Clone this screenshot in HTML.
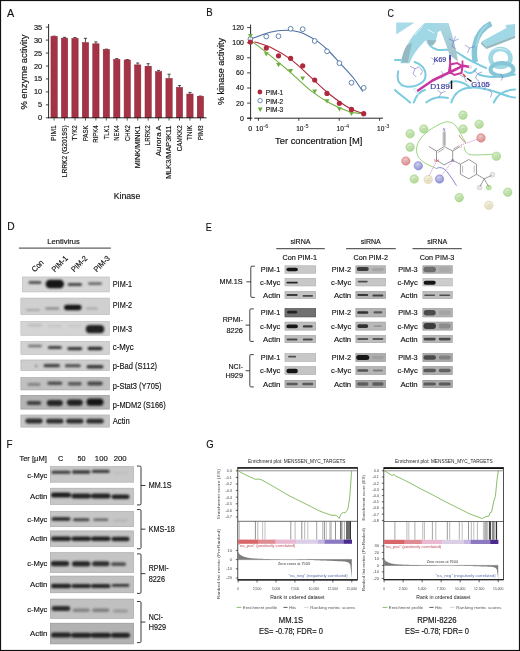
<!DOCTYPE html>
<html><head><meta charset="utf-8"><style>
html,body{margin:0;padding:0;background:#fff;}
svg{display:block;filter:blur(0.3px);}
text{font-family:"Liberation Sans",sans-serif;}
</style></head><body>
<svg width="520" height="651" viewBox="0 0 520 651">
<defs>
<filter id="b6" x="-50%" y="-200%" width="200%" height="500%"><feGaussianBlur stdDeviation="0.6"/></filter>
<filter id="b8" x="-50%" y="-200%" width="200%" height="500%"><feGaussianBlur stdDeviation="0.8"/></filter>
</defs>
<rect width="520" height="651" fill="#fff"/>
<g fill="#222">
<text x="7.00" y="16.80" font-size="11.5" stroke="#111" stroke-width="0.15" textLength="7.20" lengthAdjust="spacingAndGlyphs" fill="#111" >A</text>
<line x1="48.60" y1="24.00" x2="48.60" y2="118.20" stroke="#111" stroke-width="0.9" />
<line x1="45.90" y1="117.80" x2="48.60" y2="117.80" stroke="#111" stroke-width="0.8" />
<text x="42.20" y="120.30" font-size="7.0" stroke="#111" stroke-width="0.15" text-anchor="end" textLength="4.10" lengthAdjust="spacingAndGlyphs" fill="#111" >0</text>
<line x1="45.90" y1="104.85" x2="48.60" y2="104.85" stroke="#111" stroke-width="0.8" />
<text x="42.20" y="107.35" font-size="7.0" stroke="#111" stroke-width="0.15" text-anchor="end" textLength="4.10" lengthAdjust="spacingAndGlyphs" fill="#111" >5</text>
<line x1="45.90" y1="91.90" x2="48.60" y2="91.90" stroke="#111" stroke-width="0.8" />
<text x="42.20" y="94.40" font-size="7.0" stroke="#111" stroke-width="0.15" text-anchor="end" textLength="8.20" lengthAdjust="spacingAndGlyphs" fill="#111" >10</text>
<line x1="45.90" y1="78.95" x2="48.60" y2="78.95" stroke="#111" stroke-width="0.8" />
<text x="42.20" y="81.45" font-size="7.0" stroke="#111" stroke-width="0.15" text-anchor="end" textLength="8.20" lengthAdjust="spacingAndGlyphs" fill="#111" >15</text>
<line x1="45.90" y1="66.00" x2="48.60" y2="66.00" stroke="#111" stroke-width="0.8" />
<text x="42.20" y="68.50" font-size="7.0" stroke="#111" stroke-width="0.15" text-anchor="end" textLength="8.20" lengthAdjust="spacingAndGlyphs" fill="#111" >20</text>
<line x1="45.90" y1="53.05" x2="48.60" y2="53.05" stroke="#111" stroke-width="0.8" />
<text x="42.20" y="55.55" font-size="7.0" stroke="#111" stroke-width="0.15" text-anchor="end" textLength="8.20" lengthAdjust="spacingAndGlyphs" fill="#111" >25</text>
<line x1="45.90" y1="40.10" x2="48.60" y2="40.10" stroke="#111" stroke-width="0.8" />
<text x="42.20" y="42.60" font-size="7.0" stroke="#111" stroke-width="0.15" text-anchor="end" textLength="8.20" lengthAdjust="spacingAndGlyphs" fill="#111" >30</text>
<line x1="45.90" y1="27.15" x2="48.60" y2="27.15" stroke="#111" stroke-width="0.8" />
<text x="42.20" y="29.65" font-size="7.0" stroke="#111" stroke-width="0.15" text-anchor="end" textLength="8.20" lengthAdjust="spacingAndGlyphs" fill="#111" >35</text>
<text x="26.90" y="72.10" font-size="8.7" stroke="#111" stroke-width="0.15" text-anchor="middle" textLength="75.00" lengthAdjust="spacingAndGlyphs" fill="#111" transform="rotate(-90 26.90 72.10)" >% enzyme activity</text>
<line x1="52.50" y1="36.10" x2="55.70" y2="36.10" stroke="#333" stroke-width="0.8" />
<rect x="50.95" y="36.40" width="6.30" height="81.40" fill="#a33345" stroke="#8e2034" stroke-width="0.5"/>
<line x1="54.10" y1="117.80" x2="54.10" y2="120.60" stroke="#222" stroke-width="0.7" />
<text x="56.40" y="125.30" font-size="6.9" stroke="#111" stroke-width="0.15" text-anchor="end" textLength="15.60" lengthAdjust="spacingAndGlyphs" fill="#111" transform="rotate(-90 56.40 125.30)" >PIM1</text>
<line x1="64.55" y1="37.30" x2="64.55" y2="38.10" stroke="#222" stroke-width="0.8" />
<line x1="62.95" y1="37.30" x2="66.15" y2="37.30" stroke="#222" stroke-width="0.8" />
<rect x="61.40" y="38.10" width="6.30" height="79.70" fill="#a33345" stroke="#8e2034" stroke-width="0.5"/>
<line x1="64.55" y1="117.80" x2="64.55" y2="120.60" stroke="#222" stroke-width="0.7" />
<text x="66.85" y="125.30" font-size="6.9" stroke="#111" stroke-width="0.15" text-anchor="end" textLength="52.00" lengthAdjust="spacingAndGlyphs" fill="#111" transform="rotate(-90 66.85 125.30)" >LRRK2 (G2019S)</text>
<line x1="75.00" y1="37.50" x2="75.00" y2="38.40" stroke="#222" stroke-width="0.8" />
<line x1="73.40" y1="37.50" x2="76.60" y2="37.50" stroke="#222" stroke-width="0.8" />
<rect x="71.85" y="38.40" width="6.30" height="79.40" fill="#a33345" stroke="#8e2034" stroke-width="0.5"/>
<line x1="75.00" y1="117.80" x2="75.00" y2="120.60" stroke="#222" stroke-width="0.7" />
<text x="77.30" y="125.30" font-size="6.9" stroke="#111" stroke-width="0.15" text-anchor="end" textLength="15.20" lengthAdjust="spacingAndGlyphs" fill="#111" transform="rotate(-90 77.30 125.30)" >TYK2</text>
<line x1="85.45" y1="38.30" x2="85.45" y2="42.60" stroke="#222" stroke-width="0.8" />
<line x1="83.85" y1="38.30" x2="87.05" y2="38.30" stroke="#222" stroke-width="0.8" />
<rect x="82.30" y="42.60" width="6.30" height="75.20" fill="#a33345" stroke="#8e2034" stroke-width="0.5"/>
<line x1="85.45" y1="117.80" x2="85.45" y2="120.60" stroke="#222" stroke-width="0.7" />
<text x="87.75" y="125.30" font-size="6.9" stroke="#111" stroke-width="0.15" text-anchor="end" textLength="16.00" lengthAdjust="spacingAndGlyphs" fill="#111" transform="rotate(-90 87.75 125.30)" >PASK</text>
<line x1="95.90" y1="41.90" x2="95.90" y2="43.80" stroke="#222" stroke-width="0.8" />
<line x1="94.30" y1="41.90" x2="97.50" y2="41.90" stroke="#222" stroke-width="0.8" />
<rect x="92.75" y="43.80" width="6.30" height="74.00" fill="#a33345" stroke="#8e2034" stroke-width="0.5"/>
<line x1="95.90" y1="117.80" x2="95.90" y2="120.60" stroke="#222" stroke-width="0.7" />
<text x="98.20" y="125.30" font-size="6.9" stroke="#111" stroke-width="0.15" text-anchor="end" textLength="17.50" lengthAdjust="spacingAndGlyphs" fill="#111" transform="rotate(-90 98.20 125.30)" >RIPK4</text>
<line x1="104.75" y1="49.10" x2="107.95" y2="49.10" stroke="#333" stroke-width="0.8" />
<rect x="103.20" y="49.40" width="6.30" height="68.40" fill="#a33345" stroke="#8e2034" stroke-width="0.5"/>
<line x1="106.35" y1="117.80" x2="106.35" y2="120.60" stroke="#222" stroke-width="0.7" />
<text x="108.65" y="125.30" font-size="6.9" stroke="#111" stroke-width="0.15" text-anchor="end" textLength="14.00" lengthAdjust="spacingAndGlyphs" fill="#111" transform="rotate(-90 108.65 125.30)" >TLK1</text>
<line x1="116.80" y1="58.60" x2="116.80" y2="59.40" stroke="#222" stroke-width="0.8" />
<line x1="115.20" y1="58.60" x2="118.40" y2="58.60" stroke="#222" stroke-width="0.8" />
<rect x="113.65" y="59.40" width="6.30" height="58.40" fill="#a33345" stroke="#8e2034" stroke-width="0.5"/>
<line x1="116.80" y1="117.80" x2="116.80" y2="120.60" stroke="#222" stroke-width="0.7" />
<text x="119.10" y="125.30" font-size="6.9" stroke="#111" stroke-width="0.15" text-anchor="end" textLength="15.50" lengthAdjust="spacingAndGlyphs" fill="#111" transform="rotate(-90 119.10 125.30)" >NEK4</text>
<line x1="127.25" y1="59.60" x2="127.25" y2="60.00" stroke="#222" stroke-width="0.8" />
<line x1="125.65" y1="59.60" x2="128.85" y2="59.60" stroke="#222" stroke-width="0.8" />
<rect x="124.10" y="60.00" width="6.30" height="57.80" fill="#a33345" stroke="#8e2034" stroke-width="0.5"/>
<line x1="127.25" y1="117.80" x2="127.25" y2="120.60" stroke="#222" stroke-width="0.7" />
<text x="129.55" y="125.30" font-size="6.9" stroke="#111" stroke-width="0.15" text-anchor="end" textLength="15.80" lengthAdjust="spacingAndGlyphs" fill="#111" transform="rotate(-90 129.55 125.30)" >CHK2</text>
<line x1="137.70" y1="63.00" x2="137.70" y2="64.90" stroke="#222" stroke-width="0.8" />
<line x1="136.10" y1="63.00" x2="139.30" y2="63.00" stroke="#222" stroke-width="0.8" />
<rect x="134.55" y="64.90" width="6.30" height="52.90" fill="#a33345" stroke="#8e2034" stroke-width="0.5"/>
<line x1="137.70" y1="117.80" x2="137.70" y2="120.60" stroke="#222" stroke-width="0.7" />
<text x="140.00" y="125.30" font-size="6.9" stroke="#111" stroke-width="0.15" text-anchor="end" textLength="43.00" lengthAdjust="spacingAndGlyphs" fill="#111" transform="rotate(-90 140.00 125.30)" >MINK/MINK1</text>
<line x1="148.15" y1="63.70" x2="148.15" y2="66.20" stroke="#222" stroke-width="0.8" />
<line x1="146.55" y1="63.70" x2="149.75" y2="63.70" stroke="#222" stroke-width="0.8" />
<rect x="145.00" y="66.20" width="6.30" height="51.60" fill="#a33345" stroke="#8e2034" stroke-width="0.5"/>
<line x1="148.15" y1="117.80" x2="148.15" y2="120.60" stroke="#222" stroke-width="0.7" />
<text x="150.45" y="125.30" font-size="6.9" stroke="#111" stroke-width="0.15" text-anchor="end" textLength="20.00" lengthAdjust="spacingAndGlyphs" fill="#111" transform="rotate(-90 150.45 125.30)" >LRRK2</text>
<line x1="158.60" y1="70.40" x2="158.60" y2="71.70" stroke="#222" stroke-width="0.8" />
<line x1="157.00" y1="70.40" x2="160.20" y2="70.40" stroke="#222" stroke-width="0.8" />
<rect x="155.45" y="71.70" width="6.30" height="46.10" fill="#a33345" stroke="#8e2034" stroke-width="0.5"/>
<line x1="158.60" y1="117.80" x2="158.60" y2="120.60" stroke="#222" stroke-width="0.7" />
<text x="160.90" y="125.30" font-size="6.9" stroke="#111" stroke-width="0.15" text-anchor="end" textLength="31.00" lengthAdjust="spacingAndGlyphs" fill="#111" transform="rotate(-90 160.90 125.30)" >Aurora A</text>
<line x1="169.05" y1="74.20" x2="169.05" y2="78.50" stroke="#222" stroke-width="0.8" />
<line x1="167.45" y1="74.20" x2="170.65" y2="74.20" stroke="#222" stroke-width="0.8" />
<rect x="165.90" y="78.50" width="6.30" height="39.30" fill="#a33345" stroke="#8e2034" stroke-width="0.5"/>
<line x1="169.05" y1="117.80" x2="169.05" y2="120.60" stroke="#222" stroke-width="0.7" />
<text x="171.35" y="125.30" font-size="6.9" stroke="#111" stroke-width="0.15" text-anchor="end" textLength="53.50" lengthAdjust="spacingAndGlyphs" fill="#111" transform="rotate(-90 171.35 125.30)" >MLK3/MAP3K11</text>
<line x1="179.50" y1="85.60" x2="179.50" y2="87.40" stroke="#222" stroke-width="0.8" />
<line x1="177.90" y1="85.60" x2="181.10" y2="85.60" stroke="#222" stroke-width="0.8" />
<rect x="176.35" y="87.40" width="6.30" height="30.40" fill="#a33345" stroke="#8e2034" stroke-width="0.5"/>
<line x1="179.50" y1="117.80" x2="179.50" y2="120.60" stroke="#222" stroke-width="0.7" />
<text x="181.80" y="125.30" font-size="6.9" stroke="#111" stroke-width="0.15" text-anchor="end" textLength="26.00" lengthAdjust="spacingAndGlyphs" fill="#111" transform="rotate(-90 181.80 125.30)" >CAMKK2</text>
<line x1="189.95" y1="92.40" x2="189.95" y2="94.00" stroke="#222" stroke-width="0.8" />
<line x1="188.35" y1="92.40" x2="191.55" y2="92.40" stroke="#222" stroke-width="0.8" />
<rect x="186.80" y="94.00" width="6.30" height="23.80" fill="#a33345" stroke="#8e2034" stroke-width="0.5"/>
<line x1="189.95" y1="117.80" x2="189.95" y2="120.60" stroke="#222" stroke-width="0.7" />
<text x="192.25" y="125.30" font-size="6.9" stroke="#111" stroke-width="0.15" text-anchor="end" textLength="15.00" lengthAdjust="spacingAndGlyphs" fill="#111" transform="rotate(-90 192.25 125.30)" >TNIK</text>
<line x1="198.80" y1="96.00" x2="202.00" y2="96.00" stroke="#333" stroke-width="0.8" />
<rect x="197.25" y="96.30" width="6.30" height="21.50" fill="#a33345" stroke="#8e2034" stroke-width="0.5"/>
<line x1="200.40" y1="117.80" x2="200.40" y2="120.60" stroke="#222" stroke-width="0.7" />
<text x="202.70" y="125.30" font-size="6.9" stroke="#111" stroke-width="0.15" text-anchor="end" textLength="15.00" lengthAdjust="spacingAndGlyphs" fill="#111" transform="rotate(-90 202.70 125.30)" >PIM3</text>
<line x1="48.20" y1="117.80" x2="206.50" y2="117.80" stroke="#111" stroke-width="0.9" />
<text x="127.00" y="198.60" font-size="8.3" stroke="#111" stroke-width="0.15" text-anchor="middle" textLength="26.60" lengthAdjust="spacingAndGlyphs" fill="#111" >Kinase</text>
<text x="206.20" y="16.40" font-size="11" stroke="#111" stroke-width="0.15" textLength="6.40" lengthAdjust="spacingAndGlyphs" fill="#111" >B</text>
<line x1="250.60" y1="24.60" x2="250.60" y2="118.30" stroke="#111" stroke-width="0.9" />
<line x1="247.10" y1="118.20" x2="250.60" y2="118.20" stroke="#111" stroke-width="0.8" />
<text x="243.80" y="120.60" font-size="7.7" stroke="#111" stroke-width="0.15" text-anchor="end" textLength="3.90" lengthAdjust="spacingAndGlyphs" fill="#111" >0</text>
<line x1="247.10" y1="103.10" x2="250.60" y2="103.10" stroke="#111" stroke-width="0.8" />
<text x="243.80" y="105.50" font-size="7.7" stroke="#111" stroke-width="0.15" text-anchor="end" textLength="7.70" lengthAdjust="spacingAndGlyphs" fill="#111" >20</text>
<line x1="247.10" y1="88.00" x2="250.60" y2="88.00" stroke="#111" stroke-width="0.8" />
<text x="243.80" y="90.40" font-size="7.7" stroke="#111" stroke-width="0.15" text-anchor="end" textLength="7.70" lengthAdjust="spacingAndGlyphs" fill="#111" >40</text>
<line x1="247.10" y1="72.90" x2="250.60" y2="72.90" stroke="#111" stroke-width="0.8" />
<text x="243.80" y="75.30" font-size="7.7" stroke="#111" stroke-width="0.15" text-anchor="end" textLength="7.70" lengthAdjust="spacingAndGlyphs" fill="#111" >60</text>
<line x1="247.10" y1="57.80" x2="250.60" y2="57.80" stroke="#111" stroke-width="0.8" />
<text x="243.80" y="60.20" font-size="7.7" stroke="#111" stroke-width="0.15" text-anchor="end" textLength="7.70" lengthAdjust="spacingAndGlyphs" fill="#111" >80</text>
<line x1="247.10" y1="42.70" x2="250.60" y2="42.70" stroke="#111" stroke-width="0.8" />
<text x="243.80" y="45.10" font-size="7.7" stroke="#111" stroke-width="0.15" text-anchor="end" textLength="11.50" lengthAdjust="spacingAndGlyphs" fill="#111" >100</text>
<line x1="247.10" y1="27.60" x2="250.60" y2="27.60" stroke="#111" stroke-width="0.8" />
<text x="243.80" y="30.00" font-size="7.7" stroke="#111" stroke-width="0.15" text-anchor="end" textLength="11.50" lengthAdjust="spacingAndGlyphs" fill="#111" >120</text>
<line x1="247.20" y1="118.20" x2="252.30" y2="118.20" stroke="#111" stroke-width="0.9" />
<line x1="254.20" y1="118.20" x2="383.00" y2="118.20" stroke="#111" stroke-width="0.9" />
<line x1="250.40" y1="118.20" x2="250.40" y2="120.80" stroke="#111" stroke-width="0.8" />
<line x1="258.40" y1="118.20" x2="258.40" y2="120.80" stroke="#111" stroke-width="0.8" />
<line x1="298.80" y1="118.20" x2="298.80" y2="120.80" stroke="#111" stroke-width="0.8" />
<line x1="339.20" y1="118.20" x2="339.20" y2="120.80" stroke="#111" stroke-width="0.8" />
<line x1="379.60" y1="118.20" x2="379.60" y2="120.80" stroke="#111" stroke-width="0.8" />
<text x="250.20" y="131.40" font-size="7.2" stroke="#111" stroke-width="0.15" text-anchor="middle" textLength="3.90" lengthAdjust="spacingAndGlyphs" fill="#111" >0</text>
<text x="255.80" y="131.40" font-size="7.2" stroke="#111" stroke-width="0.15" textLength="7.30" lengthAdjust="spacingAndGlyphs" fill="#111" >10</text>
<text x="263.30" y="128.20" font-size="4.6" textLength="5.00" lengthAdjust="spacingAndGlyphs" fill="#111" >-6</text>
<text x="296.20" y="131.40" font-size="7.2" stroke="#111" stroke-width="0.15" textLength="7.30" lengthAdjust="spacingAndGlyphs" fill="#111" >10</text>
<text x="303.70" y="128.20" font-size="4.6" textLength="5.00" lengthAdjust="spacingAndGlyphs" fill="#111" >-5</text>
<text x="336.60" y="131.40" font-size="7.2" stroke="#111" stroke-width="0.15" textLength="7.30" lengthAdjust="spacingAndGlyphs" fill="#111" >10</text>
<text x="344.10" y="128.20" font-size="4.6" textLength="5.00" lengthAdjust="spacingAndGlyphs" fill="#111" >-4</text>
<text x="377.00" y="131.40" font-size="7.2" stroke="#111" stroke-width="0.15" textLength="7.30" lengthAdjust="spacingAndGlyphs" fill="#111" >10</text>
<text x="384.50" y="128.20" font-size="4.6" textLength="5.00" lengthAdjust="spacingAndGlyphs" fill="#111" >-3</text>
<text x="318.70" y="143.70" font-size="9.4" stroke="#111" stroke-width="0.15" text-anchor="middle" textLength="87.30" lengthAdjust="spacingAndGlyphs" fill="#111" >Ter concentration [M]</text>
<text x="224.40" y="71.50" font-size="8.5" stroke="#111" stroke-width="0.15" text-anchor="middle" textLength="67.00" lengthAdjust="spacingAndGlyphs" fill="#111" transform="rotate(-90 224.40 71.50)" >% kinase activity</text>
<path d="M252.00,38.50 C255.00,37.45 264.43,33.58 270.00,32.20 C275.57,30.82 280.40,30.20 285.40,30.20 C290.40,30.20 294.90,30.50 300.00,32.20 C305.10,33.90 311.38,37.43 316.00,40.40 C320.62,43.37 323.83,46.35 327.70,50.00 C331.57,53.65 335.03,57.80 339.20,62.30 C343.37,66.80 348.77,72.13 352.70,77.00 C356.63,81.87 361.12,89.08 362.80,91.50" fill="none" stroke="#4a6fa0" stroke-width="1.1"/>
<path d="M254.60,41.80 C257.48,42.83 265.80,45.03 271.90,48.00 C278.00,50.97 284.78,54.78 291.20,59.60 C297.62,64.42 304.00,71.13 310.40,76.90 C316.80,82.67 323.20,89.07 329.60,94.20 C336.00,99.33 343.15,104.47 348.80,107.70 C354.45,110.93 361.05,112.62 363.50,113.60" fill="none" stroke="#b0283c" stroke-width="1.1"/>
<path d="M252.20,41.50 C255.48,44.07 265.40,51.63 271.90,56.90 C278.40,62.17 284.78,67.52 291.20,73.10 C297.62,78.68 304.00,85.42 310.40,90.40 C316.80,95.38 323.20,99.48 329.60,103.00 C336.00,106.52 343.15,109.70 348.80,111.50 C354.45,113.30 361.05,113.42 363.50,113.80" fill="none" stroke="#6fae3e" stroke-width="1.1"/>
<circle cx="250.4" cy="39.0" r="2.4" fill="#fff" stroke="#4a6fa0" stroke-width="0.85"/>
<circle cx="266.3" cy="36.5" r="2.4" fill="#fff" stroke="#4a6fa0" stroke-width="0.85"/>
<circle cx="278.5" cy="36.2" r="2.4" fill="#fff" stroke="#4a6fa0" stroke-width="0.85"/>
<circle cx="290.6" cy="28.8" r="2.4" fill="#fff" stroke="#4a6fa0" stroke-width="0.85"/>
<circle cx="302.7" cy="29.2" r="2.4" fill="#fff" stroke="#4a6fa0" stroke-width="0.85"/>
<circle cx="314.7" cy="41.0" r="2.4" fill="#fff" stroke="#4a6fa0" stroke-width="0.85"/>
<circle cx="327.0" cy="51.3" r="2.4" fill="#fff" stroke="#4a6fa0" stroke-width="0.85"/>
<circle cx="339.4" cy="63.1" r="2.4" fill="#fff" stroke="#4a6fa0" stroke-width="0.85"/>
<circle cx="351.5" cy="82.7" r="2.4" fill="#fff" stroke="#4a6fa0" stroke-width="0.85"/>
<circle cx="363.7" cy="87.9" r="2.4" fill="#fff" stroke="#4a6fa0" stroke-width="0.85"/>
<path d="M248.0,33.9 L252.8,33.9 L250.4,38.2 Z" fill="#6fae3e"/>
<path d="M263.90000000000003,52.3 L268.7,52.3 L266.3,56.6 Z" fill="#6fae3e"/>
<path d="M276.1,62.9 L280.9,62.9 L278.5,67.2 Z" fill="#6fae3e"/>
<path d="M288.20000000000005,69.10000000000001 L293.0,69.10000000000001 L290.6,73.4 Z" fill="#6fae3e"/>
<path d="M300.3,76.5 L305.09999999999997,76.5 L302.7,80.8 Z" fill="#6fae3e"/>
<path d="M312.3,89.60000000000001 L317.09999999999997,89.60000000000001 L314.7,93.9 Z" fill="#6fae3e"/>
<path d="M324.6,99.2 L329.4,99.2 L327.0,103.5 Z" fill="#6fae3e"/>
<path d="M337.0,107.30000000000001 L341.79999999999995,107.30000000000001 L339.4,111.60000000000001 Z" fill="#6fae3e"/>
<path d="M349.1,111.7 L353.9,111.7 L351.5,116.0 Z" fill="#6fae3e"/>
<path d="M361.3,112.4 L366.09999999999997,112.4 L363.7,116.7 Z" fill="#6fae3e"/>
<circle cx="250.4" cy="42.0" r="2.6" fill="#b0283c"/>
<circle cx="266.3" cy="48.1" r="2.6" fill="#b0283c"/>
<circle cx="278.5" cy="55.8" r="2.6" fill="#b0283c"/>
<circle cx="290.6" cy="58.3" r="2.6" fill="#b0283c"/>
<circle cx="302.7" cy="65.8" r="2.6" fill="#b0283c"/>
<circle cx="314.7" cy="80.0" r="2.6" fill="#b0283c"/>
<circle cx="327.0" cy="93.4" r="2.6" fill="#b0283c"/>
<circle cx="339.4" cy="103.3" r="2.6" fill="#b0283c"/>
<circle cx="351.5" cy="109.4" r="2.6" fill="#b0283c"/>
<circle cx="363.7" cy="113.7" r="2.6" fill="#b0283c"/>
<circle cx="259.9" cy="92.0" r="2.4" fill="#b0283c"/>
<circle cx="260.1" cy="100.6" r="2.2" fill="#fff" stroke="#4a6fa0" stroke-width="0.8"/>
<path d="M257.7,107.4 L262.7,107.4 L260.2,111.9 Z" fill="#6fae3e"/>
<text x="265.80" y="94.60" font-size="7.4" stroke="#111" stroke-width="0.15" textLength="17.40" lengthAdjust="spacingAndGlyphs" fill="#111" >PIM-1</text>
<text x="265.80" y="103.80" font-size="7.4" stroke="#111" stroke-width="0.15" textLength="17.40" lengthAdjust="spacingAndGlyphs" fill="#111" >PIM-2</text>
<text x="265.80" y="111.90" font-size="7.4" stroke="#111" stroke-width="0.15" textLength="17.40" lengthAdjust="spacingAndGlyphs" fill="#111" >PIM-3</text>
<text x="387.60" y="16.80" font-size="11" stroke="#111" stroke-width="0.15" textLength="6.40" lengthAdjust="spacingAndGlyphs" fill="#111" >C</text>
<svg x="397.6" y="23.2" width="115.30" height="82.60" viewBox="397.6 23.2 115.30 82.60" overflow="hidden">
<g transform="translate(390,15) scale(0.25)">
<path d="M98,188 C125,195 140,215 142,234 C143,250 138,262 130,268 C115,280 90,288 70,287 C50,285 38,278 33,262 C28,248 30,235 33,225" fill="none" stroke="#7ccbde" stroke-width="8" stroke-linecap="round"/>
<path d="M148,97 C150,115 160,130 189,139 C210,142 225,138 235,139 C255,142 265,148 272,152 C290,162 300,172 328,185 C345,192 360,205 385,212" fill="none" stroke="#7ccbde" stroke-width="8" stroke-linecap="round"/>
<path d="M20,180 C40,178 55,183 70,180" fill="none" stroke="#7ccbde" stroke-width="8" stroke-linecap="round"/>
<path d="M95,350 C105,320 120,305 140,300" fill="none" stroke="#7ccbde" stroke-width="8" stroke-linecap="round"/>
<path d="M245,350 C258,310 290,290 330,290 C370,290 400,300 430,310 C460,320 480,330 500,330" fill="none" stroke="#7ccbde" stroke-width="8" stroke-linecap="round"/>
<path d="M238,272 C260,258 300,268 322,292" fill="none" stroke="#7ccbde" stroke-width="8" stroke-linecap="round"/>
<path d="M355,238 C390,252 430,252 500,238" fill="none" stroke="#7ccbde" stroke-width="8" stroke-linecap="round"/>
<path d="M415,350 C428,320 458,300 500,298" fill="none" stroke="#7ccbde" stroke-width="8" stroke-linecap="round"/>
<path d="M145,350 C170,330 200,325 232,332" fill="none" stroke="#7ccbde" stroke-width="8" stroke-linecap="round"/>
<path d="M20,300 C40,320 60,330 80,350" fill="none" stroke="#7ccbde" stroke-width="8" stroke-linecap="round"/>
<path d="M300,225 C320,240 335,230 345,215" fill="none" stroke="#7ccbde" stroke-width="8" stroke-linecap="round"/>
<path d="M25,30 L98,30 L25,78 Z" fill="#a8dbe8"/>
<path d="M41,193 C48,160 62,130 80,100 C100,70 120,48 140,32 L190,32 C200,40 210,50 213,58 C180,70 150,95 132,112 C110,135 90,160 78,193 Z" fill="#a0d8e6"/>
<path d="M47,190 C48,165 55,140 68,120 L90,112 C82,135 76,160 72,190 Z" fill="#94b9c0"/>
<path d="M100,80 C112,66 122,55 130,45" stroke="#dff3f8" stroke-width="4" fill="none"/>
<defs><linearGradient id="bandg" x1="0" y1="0" x2="0" y2="1"><stop offset="0" stop-color="#a9d8e4"/><stop offset="1" stop-color="#a2c2c8"/></linearGradient></defs>
<path d="M190,32 L234,32 C246,70 262,118 272,186 L238,160 C226,120 210,80 190,32 Z" fill="url(#bandg)"/>
<path d="M142,42 C152,33 180,32 190,40 C194,70 188,100 172,118 C162,124 152,122 148,110 C142,90 138,65 142,42 Z" fill="#a0d8e6"/>
<path d="M150,100 C160,98 178,104 186,100 C182,110 176,118 170,122 C160,124 152,120 150,100 Z" fill="#94b9c0"/>
<path d="M150,58 L176,72" stroke="#e6f6fa" stroke-width="4"/>
<path d="M405,34 C372,50 348,82 340,120 C335,150 337,170 342,188" fill="none" stroke="#86c6d6" stroke-width="22"/>
<path d="M392,38 C366,56 350,86 346,125" fill="none" stroke="#a0d8e6" stroke-width="8"/>
<ellipse cx="442" cy="172" rx="40" ry="36" fill="none" stroke="#a0d8e6" stroke-width="18"/>
<ellipse cx="448" cy="218" rx="46" ry="26" fill="none" stroke="#86c6d6" stroke-width="16"/>
<path d="M405,140 C420,132 450,132 468,142" stroke="#d6eef4" stroke-width="4" fill="none"/>
<path d="M366,106 L466,52 L462,40 L500,36 L500,82 L384,126 Z" fill="#a0d8e6"/>
<path d="M366,106 L384,126 L500,82 L500,92 L386,136 L364,116 Z" fill="#94b9c0"/>
<path d="M235,95 L255,105 L248,125 M255,105 L275,95 M248,125 L262,135 M255,105 L262,85" fill="none" stroke="#6262c4" stroke-width="2.2"/>
<path d="M300,120 L318,132 L310,152 M318,132 L338,126" fill="none" stroke="#6262c4" stroke-width="2.2"/>
<path d="M80,205 L100,215 L92,235 M100,215 L118,207 M92,235 L105,248" fill="none" stroke="#6262c4" stroke-width="2.2"/>
<path d="M165,170 L180,185 L172,200 M180,185 L196,178" fill="none" stroke="#6262c4" stroke-width="2.2"/>
<path d="M190,300 L205,312 L195,330 M205,312 L222,305" fill="none" stroke="#6262c4" stroke-width="2.2"/>
<path d="M335,220 L350,235 L342,252 M350,235 L368,228 M342,252 L356,265" fill="none" stroke="#6262c4" stroke-width="2.2"/>
<path d="M370,270 L385,282 L376,300 M385,282 L402,276" fill="none" stroke="#6262c4" stroke-width="2.2"/>
<path d="M395,300 L408,312 L402,330" fill="none" stroke="#6262c4" stroke-width="2.2"/>
<path d="M205,225 L215,240 L205,255" fill="none" stroke="#6262c4" stroke-width="2.2"/>
<path d="M280,240 L298,250 M298,250 L305,268" fill="none" stroke="#6262c4" stroke-width="2.2"/>
<path d="M120,210 L130,225 L122,240" fill="none" stroke="#6262c4" stroke-width="2.2"/>
<path d="M440,235 L452,248 L445,262" fill="none" stroke="#6262c4" stroke-width="2.2"/>
<path d="M112,302 L170,262 L220,238 L262,218 L292,203 L322,208" fill="none" stroke="#c8379d" stroke-width="10" stroke-linejoin="round" stroke-linecap="round"/>
<path d="M240,198 L268,192 L290,205 L286,232 L258,240 L236,226 Z" fill="none" stroke="#c8379d" stroke-width="8"/>
<path d="M240,172 L242,236" stroke="#c8379d" stroke-width="8"/>
<path d="M240,160 L240,178" stroke="#3a3ab0" stroke-width="7"/>
<path d="M290,182 L290,205" stroke="#c8379d" stroke-width="7"/>
<path d="M292,236 L302,248" stroke="#d05050" stroke-width="7"/>
<path d="M246,262 L246,296" stroke="#111" stroke-width="6"/>
<path d="M308,253 L326,266" stroke="#111" stroke-width="6"/>
<path d="M100,305 L115,318 M105,292 L92,300" stroke="#cfeef5" stroke-width="6"/>
<circle cx="322" cy="206" r="7" fill="#e8e8e8"/>
</g>
</svg>
<text x="433.80" y="61.60" font-size="7.2" stroke="#35359a" stroke-width="0.15" textLength="12.40" lengthAdjust="spacingAndGlyphs" fill="#35359a" >K69</text>
<text x="430.20" y="88.60" font-size="7.4" stroke="#35359a" stroke-width="0.15" textLength="19.60" lengthAdjust="spacingAndGlyphs" fill="#35359a" >D189</text>
<text x="471.20" y="87.40" font-size="7.4" stroke="#35359a" stroke-width="0.15" textLength="18.60" lengthAdjust="spacingAndGlyphs" fill="#35359a" >G105</text>
<path d="M465.8,142.6 C462,138 460,130 455,125 C451,121 446,121 440,124 C432,128 424,133 419,141 C415,148 416,156 421.2,160.3 C425,164 431,166 436.5,168.5" fill="none" stroke="#8fcf70" stroke-width="0.9"/>
<path d="M459,135 C461,139 463,141 465.8,142.6" fill="none" stroke="#d0806a" stroke-width="0.9"/>
<path d="M436.5,168.5 C441,166 445,169 448,173 C451,177 454,181 456.5,185.7" fill="none" stroke="#6a6ac8" stroke-width="0.8"/>
<path d="M464.2,146.5 C464.5,150 465,152 468.8,154.2 C472,155.2 476,155 479.6,154.9 C486,154.6 491,154.4 495,154.2" fill="none" stroke="#8fcf70" stroke-width="0.9"/>
<defs><radialGradient id="rgg" cx="0.45" cy="0.4" r="0.6"><stop offset="0" stop-color="#e4f4d8"/><stop offset="1" stop-color="#a6d68a"/></radialGradient><radialGradient id="rgr" cx="0.45" cy="0.4" r="0.6"><stop offset="0" stop-color="#f4d6d6"/><stop offset="1" stop-color="#dc8080"/></radialGradient><radialGradient id="rgb" cx="0.45" cy="0.4" r="0.6"><stop offset="0" stop-color="#dcdcf6"/><stop offset="1" stop-color="#8686d6"/></radialGradient><radialGradient id="rgc" cx="0.45" cy="0.4" r="0.6"><stop offset="0" stop-color="#fbf9ee"/><stop offset="1" stop-color="#e2d8b0"/></radialGradient><radialGradient id="rgs" cx="0.45" cy="0.4" r="0.6"><stop offset="0" stop-color="#f4f4f4"/><stop offset="1" stop-color="#d0d0d0"/></radialGradient></defs>
<circle cx="463" cy="115.1" r="4.3" fill="url(#rgg)" stroke="#9bd07c" stroke-width="0.4"/>
<path d="M461.4,114.5 L464.6,114.5 M461.4,116.1 L464.6,116.1" stroke="#6a8a6a" stroke-width="0.45" opacity="0.6"/>
<circle cx="479.1" cy="124.2" r="4.3" fill="url(#rgg)" stroke="#9bd07c" stroke-width="0.4"/>
<path d="M477.5,123.60000000000001 L480.70000000000005,123.60000000000001 M477.5,125.2 L480.70000000000005,125.2" stroke="#6a8a6a" stroke-width="0.45" opacity="0.6"/>
<circle cx="423.8" cy="129" r="4.3" fill="url(#rgg)" stroke="#9bd07c" stroke-width="0.4"/>
<path d="M422.2,128.4 L425.40000000000003,128.4 M422.2,130.0 L425.40000000000003,130.0" stroke="#6a8a6a" stroke-width="0.45" opacity="0.6"/>
<circle cx="463" cy="129" r="4.3" fill="url(#rgg)" stroke="#9bd07c" stroke-width="0.4"/>
<path d="M461.4,128.4 L464.6,128.4 M461.4,130.0 L464.6,130.0" stroke="#6a8a6a" stroke-width="0.45" opacity="0.6"/>
<circle cx="410.1" cy="133.8" r="4.3" fill="url(#rgg)" stroke="#9bd07c" stroke-width="0.4"/>
<path d="M408.5,133.20000000000002 L411.70000000000005,133.20000000000002 M408.5,134.8 L411.70000000000005,134.8" stroke="#6a8a6a" stroke-width="0.45" opacity="0.6"/>
<circle cx="481" cy="137.9" r="4.3" fill="url(#rgr)" stroke="#d87c7c" stroke-width="0.4"/>
<path d="M479.4,137.3 L482.6,137.3 M479.4,138.9 L482.6,138.9" stroke="#6a8a6a" stroke-width="0.45" opacity="0.6"/>
<circle cx="410.1" cy="147.1" r="4.3" fill="url(#rgg)" stroke="#9bd07c" stroke-width="0.4"/>
<path d="M408.5,146.5 L411.70000000000005,146.5 M408.5,148.1 L411.70000000000005,148.1" stroke="#6a8a6a" stroke-width="0.45" opacity="0.6"/>
<circle cx="496.4" cy="156.2" r="4.3" fill="url(#rgg)" stroke="#9bd07c" stroke-width="0.4"/>
<path d="M494.79999999999995,155.6 L498.0,155.6 M494.79999999999995,157.2 L498.0,157.2" stroke="#6a8a6a" stroke-width="0.45" opacity="0.6"/>
<circle cx="405.8" cy="161" r="4.3" fill="url(#rgr)" stroke="#d87c7c" stroke-width="0.4"/>
<path d="M404.2,160.4 L407.40000000000003,160.4 M404.2,162.0 L407.40000000000003,162.0" stroke="#6a8a6a" stroke-width="0.45" opacity="0.6"/>
<circle cx="418.3" cy="165.8" r="4.3" fill="url(#rgb)" stroke="#8080d0" stroke-width="0.4"/>
<path d="M416.7,165.20000000000002 L419.90000000000003,165.20000000000002 M416.7,166.8 L419.90000000000003,166.8" stroke="#6a8a6a" stroke-width="0.45" opacity="0.6"/>
<circle cx="414.2" cy="179" r="4.3" fill="url(#rgg)" stroke="#9bd07c" stroke-width="0.4"/>
<path d="M412.59999999999997,178.4 L415.8,178.4 M412.59999999999997,180.0 L415.8,180.0" stroke="#6a8a6a" stroke-width="0.45" opacity="0.6"/>
<circle cx="428.2" cy="179.5" r="4.3" fill="url(#rgc)" stroke="#d8d0a8" stroke-width="0.4"/>
<path d="M426.59999999999997,178.9 L429.8,178.9 M426.59999999999997,180.5 L429.8,180.5" stroke="#6a8a6a" stroke-width="0.45" opacity="0.6"/>
<circle cx="439.5" cy="179" r="4.3" fill="url(#rgb)" stroke="#8080d0" stroke-width="0.4"/>
<path d="M437.9,178.4 L441.1,178.4 M437.9,180.0 L441.1,180.0" stroke="#6a8a6a" stroke-width="0.45" opacity="0.6"/>
<circle cx="459.2" cy="197.6" r="4.3" fill="url(#rgg)" stroke="#9bd07c" stroke-width="0.4"/>
<path d="M457.59999999999997,197.0 L460.8,197.0 M457.59999999999997,198.6 L460.8,198.6" stroke="#6a8a6a" stroke-width="0.45" opacity="0.6"/>
<circle cx="507.7" cy="192.2" r="4.3" fill="url(#rgg)" stroke="#9bd07c" stroke-width="0.4"/>
<path d="M506.09999999999997,191.6 L509.3,191.6 M506.09999999999997,193.2 L509.3,193.2" stroke="#6a8a6a" stroke-width="0.45" opacity="0.6"/>
<circle cx="488.8" cy="205.3" r="4.3" fill="url(#rgc)" stroke="#d8d0a8" stroke-width="0.4"/>
<path d="M487.2,204.70000000000002 L490.40000000000003,204.70000000000002 M487.2,206.3 L490.40000000000003,206.3" stroke="#6a8a6a" stroke-width="0.45" opacity="0.6"/>
<circle cx="492.4" cy="174.7" r="2.6" fill="#e6e6e6" stroke="#c8c8c8" stroke-width="0.4"/>
<circle cx="479.6" cy="187.5" r="2.6" fill="#e6e6e6" stroke="#c8c8c8" stroke-width="0.4"/>
<circle cx="488.8" cy="187.5" r="2.6" fill="#bfe3a8" stroke="#9bd07c" stroke-width="0.4"/>
<line x1="444.20" y1="131.50" x2="444.20" y2="145.70" stroke="#555" stroke-width="0.6" />
<line x1="444.20" y1="146.50" x2="452.70" y2="151.10" stroke="#555" stroke-width="0.6" />
<line x1="452.70" y1="151.10" x2="452.70" y2="160.30" stroke="#555" stroke-width="0.6" />
<line x1="452.70" y1="160.30" x2="444.20" y2="164.90" stroke="#555" stroke-width="0.6" />
<line x1="444.20" y1="164.90" x2="436.50" y2="160.30" stroke="#555" stroke-width="0.6" />
<line x1="436.50" y1="160.30" x2="436.50" y2="151.10" stroke="#555" stroke-width="0.6" />
<line x1="436.50" y1="151.10" x2="444.20" y2="146.50" stroke="#555" stroke-width="0.6" />
<line x1="436.50" y1="151.10" x2="428.80" y2="146.50" stroke="#555" stroke-width="0.6" />
<line x1="452.70" y1="151.10" x2="459.20" y2="147.20" stroke="#555" stroke-width="0.6" />
<line x1="452.70" y1="160.30" x2="460.40" y2="164.20" stroke="#555" stroke-width="0.6" />
<line x1="460.40" y1="164.20" x2="468.80" y2="159.50" stroke="#555" stroke-width="0.6" />
<line x1="468.80" y1="159.50" x2="476.50" y2="164.20" stroke="#555" stroke-width="0.6" />
<line x1="476.50" y1="164.20" x2="476.50" y2="174.20" stroke="#555" stroke-width="0.6" />
<line x1="476.50" y1="174.20" x2="468.80" y2="178.80" stroke="#555" stroke-width="0.6" />
<line x1="468.80" y1="178.80" x2="460.40" y2="174.20" stroke="#555" stroke-width="0.6" />
<line x1="460.40" y1="174.20" x2="460.40" y2="164.20" stroke="#555" stroke-width="0.6" />
<line x1="476.50" y1="174.20" x2="484.20" y2="178.80" stroke="#555" stroke-width="0.6" />
<line x1="484.20" y1="178.80" x2="491.50" y2="175.50" stroke="#555" stroke-width="0.6" />
<line x1="484.20" y1="178.80" x2="480.00" y2="186.50" stroke="#555" stroke-width="0.6" />
<line x1="484.20" y1="178.80" x2="488.50" y2="186.50" stroke="#555" stroke-width="0.6" />
<line x1="445.30" y1="131.50" x2="445.30" y2="145.70" stroke="#555" stroke-width="0.4" />
<line x1="443.10" y1="131.50" x2="443.10" y2="145.70" stroke="#555" stroke-width="0.4" />
<line x1="437.80" y1="152.50" x2="444.20" y2="148.50" stroke="#555" stroke-width="0.5" />
<line x1="453.20" y1="149.20" x2="459.00" y2="145.80" stroke="#555" stroke-width="0.5" />
<line x1="462.60" y1="165.80" x2="462.60" y2="172.60" stroke="#555" stroke-width="0.4" />
<line x1="474.20" y1="165.60" x2="474.20" y2="172.60" stroke="#555" stroke-width="0.4" />
<path d="M461,145 L478,139 M436.5,161 L429,176 M452.7,161 L441,176" fill="none" stroke="#b050c0" stroke-width="0.6" stroke-dasharray="1.2,0.8"/>
<text x="444.20" y="130.50" font-size="3.2" text-anchor="middle" fill="#4040c0" >N</text>
<text x="460.50" y="147.50" font-size="3.2" text-anchor="middle" fill="#d04040" >O</text>
<text x="436.50" y="161.50" font-size="3.2" text-anchor="middle" fill="#d04040" >NH</text>
<text x="452.70" y="161.50" font-size="3.2" text-anchor="middle" fill="#4040c0" >N</text>
<text x="7.30" y="230.30" font-size="11" stroke="#111" stroke-width="0.15" textLength="7.40" lengthAdjust="spacingAndGlyphs" fill="#111" >D</text>
<text x="63.50" y="243.50" font-size="8.0" stroke="#111" stroke-width="0.15" text-anchor="middle" textLength="32.40" lengthAdjust="spacingAndGlyphs" fill="#111" >Lentivirus</text>
<line x1="18.90" y1="248.10" x2="110.90" y2="248.10" stroke="#222" stroke-width="0.9" />
<text x="34.70" y="272.60" font-size="7.8" stroke="#111" stroke-width="0.15" textLength="13.50" lengthAdjust="spacingAndGlyphs" fill="#111" transform="rotate(-45 34.70 272.60)" >Con</text>
<text x="54.70" y="272.60" font-size="7.8" stroke="#111" stroke-width="0.15" textLength="19.50" lengthAdjust="spacingAndGlyphs" fill="#111" transform="rotate(-45 54.70 272.60)" >PIM-1</text>
<text x="74.20" y="272.60" font-size="7.8" stroke="#111" stroke-width="0.15" textLength="19.50" lengthAdjust="spacingAndGlyphs" fill="#111" transform="rotate(-45 74.20 272.60)" >PIM-2</text>
<text x="96.70" y="272.60" font-size="7.8" stroke="#111" stroke-width="0.15" textLength="19.50" lengthAdjust="spacingAndGlyphs" fill="#111" transform="rotate(-45 96.70 272.60)" >PIM-3</text>
<svg x="22.00" y="276.70" width="87.60" height="15.50" overflow="hidden">
<rect width="87.60" height="15.50" fill="#d6d6d6"/>
<rect x="0.35" y="0.35" width="86.90" height="14.80" fill="none" stroke="#c4c4c4" stroke-width="0.6"/>
<g filter="url(#b8)">
<rect x="6.50" y="4.40" width="13.00" height="3.00" rx="1.50" fill="#555555"/>
<rect x="23.55" y="3.05" width="18.50" height="8.50" rx="4.25" fill="#161616"/>
<rect x="45.55" y="6.20" width="14.50" height="3.00" rx="1.50" fill="#464646"/>
<rect x="66.00" y="5.50" width="14.00" height="2.80" rx="1.40" fill="#696969"/>
</g>
</svg>
<text x="112.80" y="286.50" font-size="8.5" stroke="#111" stroke-width="0.15" textLength="19.30" lengthAdjust="spacingAndGlyphs" fill="#111" >PIM-1</text>
<svg x="20.60" y="297.80" width="89.00" height="17.00" overflow="hidden">
<rect width="89.00" height="17.00" fill="#d0d0d0"/>
<rect x="0.35" y="0.35" width="88.30" height="16.30" fill="none" stroke="#bebebe" stroke-width="0.6"/>
<g filter="url(#b8)">
<rect x="5.40" y="11.10" width="14.00" height="2.20" rx="1.10" fill="#a5a5a5"/>
<rect x="24.70" y="9.50" width="14.00" height="2.40" rx="1.20" fill="#8c8c8c"/>
<rect x="43.45" y="7.05" width="17.50" height="5.50" rx="2.75" fill="#161616"/>
<rect x="65.40" y="9.60" width="12.00" height="2.20" rx="1.10" fill="#a5a5a5"/>
</g>
</svg>
<text x="112.80" y="308.20" font-size="8.5" stroke="#111" stroke-width="0.15" textLength="19.30" lengthAdjust="spacingAndGlyphs" fill="#111" >PIM-2</text>
<svg x="20.60" y="321.20" width="89.00" height="14.40" overflow="hidden">
<rect width="89.00" height="14.40" fill="#d4d4d4"/>
<rect x="0.35" y="0.35" width="88.30" height="13.70" fill="none" stroke="#c2c2c2" stroke-width="0.6"/>
<g filter="url(#b8)">
<rect x="7.40" y="3.00" width="14.00" height="2.00" rx="1.00" fill="#b6b6b6"/>
<rect x="27.20" y="3.80" width="14.00" height="2.00" rx="1.00" fill="#c3c3c3"/>
<rect x="47.20" y="3.80" width="14.00" height="2.00" rx="1.00" fill="#c6c6c6"/>
<rect x="65.15" y="3.90" width="18.50" height="8.20" rx="4.10" fill="#232323"/>
</g>
</svg>
<text x="112.80" y="332.30" font-size="8.5" stroke="#111" stroke-width="0.15" textLength="19.30" lengthAdjust="spacingAndGlyphs" fill="#111" >PIM-3</text>
<svg x="20.60" y="341.20" width="89.00" height="13.50" overflow="hidden">
<rect width="89.00" height="13.50" fill="#d2d2d2"/>
<rect x="0.35" y="0.35" width="88.30" height="12.80" fill="none" stroke="#c0c0c0" stroke-width="0.6"/>
<g filter="url(#b8)">
<rect x="7.40" y="3.60" width="14.00" height="2.40" rx="1.20" fill="#737373"/>
<rect x="27.20" y="4.80" width="14.00" height="3.00" rx="1.50" fill="#414141"/>
<rect x="46.70" y="5.80" width="15.00" height="3.20" rx="1.60" fill="#373737"/>
<rect x="66.90" y="5.60" width="15.00" height="3.40" rx="1.70" fill="#2d2d2d"/>
</g>
</svg>
<text x="112.80" y="349.80" font-size="8.5" stroke="#111" stroke-width="0.15" textLength="20.80" lengthAdjust="spacingAndGlyphs" fill="#111" >c-Myc</text>
<svg x="20.60" y="359.70" width="89.00" height="11.10" overflow="hidden">
<rect width="89.00" height="11.10" fill="#cdcdcd"/>
<rect x="0.35" y="0.35" width="88.30" height="10.40" fill="none" stroke="#bbbbbb" stroke-width="0.6"/>
<g filter="url(#b8)">
<rect x="14.35" y="5.40" width="2.50" height="1.80" rx="0.90" fill="#787878"/>
<rect x="22.95" y="4.30" width="16.50" height="3.20" rx="1.60" fill="#414141"/>
<rect x="44.20" y="4.60" width="16.00" height="3.00" rx="1.50" fill="#4b4b4b"/>
<rect x="65.90" y="5.40" width="17.00" height="3.40" rx="1.70" fill="#373737"/>
</g>
</svg>
<text x="112.80" y="369.00" font-size="8.5" stroke="#111" stroke-width="0.15" textLength="44.30" lengthAdjust="spacingAndGlyphs" fill="#111" >p-Bad (S112)</text>
<svg x="20.60" y="377.30" width="89.00" height="12.90" overflow="hidden">
<rect width="89.00" height="12.90" fill="#c0c0c0"/>
<rect x="0.35" y="0.35" width="88.30" height="12.20" fill="none" stroke="#aeaeae" stroke-width="0.6"/>
<g filter="url(#b8)">
<rect x="6.90" y="5.70" width="13.00" height="2.80" rx="1.40" fill="#7d7d7d"/>
<rect x="26.70" y="4.10" width="15.00" height="3.60" rx="1.80" fill="#505050"/>
<rect x="47.20" y="4.75" width="14.00" height="3.50" rx="1.75" fill="#555555"/>
<rect x="66.65" y="4.20" width="15.50" height="4.00" rx="2.00" fill="#464646"/>
</g>
</svg>
<text x="112.80" y="388.50" font-size="8.5" stroke="#111" stroke-width="0.15" textLength="48.80" lengthAdjust="spacingAndGlyphs" fill="#111" >p-Stat3 (Y705)</text>
<svg x="20.60" y="395.00" width="89.00" height="14.40" overflow="hidden">
<rect width="89.00" height="14.40" fill="#b4b4b4"/>
<rect x="0.35" y="0.35" width="88.30" height="13.70" fill="none" stroke="#a2a2a2" stroke-width="0.6"/>
<g filter="url(#b8)">
<rect x="6.15" y="6.00" width="14.50" height="4.00" rx="2.00" fill="#3c3c3c"/>
<rect x="26.20" y="5.00" width="16.00" height="6.00" rx="3.00" fill="#282828"/>
<rect x="46.20" y="4.50" width="16.00" height="6.20" rx="3.10" fill="#232323"/>
<rect x="65.90" y="3.60" width="17.00" height="7.20" rx="3.60" fill="#191919"/>
</g>
</svg>
<text x="112.80" y="408.00" font-size="8.5" stroke="#111" stroke-width="0.15" textLength="52.90" lengthAdjust="spacingAndGlyphs" fill="#111" >p-MDM2 (S166)</text>
<svg x="20.60" y="414.70" width="89.00" height="12.70" overflow="hidden">
<rect width="89.00" height="12.70" fill="#c6c6c6"/>
<rect x="0.35" y="0.35" width="88.30" height="12.00" fill="none" stroke="#b4b4b4" stroke-width="0.6"/>
<g filter="url(#b8)">
<rect x="4.65" y="3.90" width="17.50" height="4.80" rx="2.40" fill="#2d2d2d"/>
<rect x="25.45" y="4.10" width="17.50" height="4.80" rx="2.40" fill="#2d2d2d"/>
<rect x="45.45" y="4.10" width="17.50" height="4.80" rx="2.40" fill="#2d2d2d"/>
<rect x="65.65" y="4.10" width="17.50" height="4.80" rx="2.40" fill="#2d2d2d"/>
</g>
</svg>
<text x="112.80" y="423.60" font-size="8.5" stroke="#111" stroke-width="0.15" textLength="16.90" lengthAdjust="spacingAndGlyphs" fill="#111" >Actin</text>
<text x="205.80" y="230.60" font-size="11" stroke="#111" stroke-width="0.15" textLength="6.00" lengthAdjust="spacingAndGlyphs" fill="#111" >E</text>
<text x="300.50" y="243.80" font-size="7.6" stroke="#111" stroke-width="0.15" text-anchor="middle" textLength="20.00" lengthAdjust="spacingAndGlyphs" fill="#111" >siRNA</text>
<line x1="276.30" y1="248.70" x2="324.80" y2="248.70" stroke="#222" stroke-width="0.9" />
<text x="299.80" y="259.60" font-size="7.9" stroke="#111" stroke-width="0.15" text-anchor="middle" textLength="34.50" lengthAdjust="spacingAndGlyphs" fill="#111" >Con PIM-1</text>
<svg x="284.70" y="265.50" width="31.30" height="8.00" overflow="hidden">
<rect width="31.30" height="8.00" fill="#c8c8c8"/>
<rect x="0.35" y="0.35" width="30.60" height="7.30" fill="none" stroke="#b6b6b6" stroke-width="0.6"/>
<g filter="url(#b6)">
<rect x="1.68" y="2.20" width="11.50" height="3.60" rx="1.80" fill="#141414"/>
</g>
</svg>
<text x="280.30" y="272.10" font-size="7.7" stroke="#111" stroke-width="0.15" text-anchor="end" textLength="19.50" lengthAdjust="spacingAndGlyphs" fill="#111" >PIM-1</text>
<svg x="284.70" y="278.00" width="31.30" height="8.20" overflow="hidden">
<rect width="31.30" height="8.20" fill="#c8c8c8"/>
<rect x="0.35" y="0.35" width="30.60" height="7.50" fill="none" stroke="#b6b6b6" stroke-width="0.6"/>
<g filter="url(#b6)">
<rect x="1.68" y="3.65" width="11.50" height="1.90" rx="0.95" fill="#282828"/>
</g>
</svg>
<text x="280.30" y="284.70" font-size="7.7" stroke="#111" stroke-width="0.15" text-anchor="end" textLength="20.30" lengthAdjust="spacingAndGlyphs" fill="#111" >c-Myc</text>
<svg x="284.70" y="291.20" width="31.30" height="7.60" overflow="hidden">
<rect width="31.30" height="7.60" fill="#c3c3c3"/>
<rect x="0.35" y="0.35" width="30.60" height="6.90" fill="none" stroke="#b1b1b1" stroke-width="0.6"/>
<g filter="url(#b6)">
<rect x="1.82" y="2.80" width="11.20" height="2.00" rx="1.00" fill="#3c3c3c"/>
<rect x="17.83" y="3.70" width="10.50" height="1.80" rx="0.90" fill="#464646"/>
</g>
</svg>
<text x="280.30" y="297.60" font-size="7.7" stroke="#111" stroke-width="0.15" text-anchor="end" textLength="17.30" lengthAdjust="spacingAndGlyphs" fill="#111" >Actin</text>
<svg x="284.70" y="308.20" width="31.30" height="9.00" overflow="hidden">
<rect width="31.30" height="9.00" fill="#707070"/>
<rect x="0.35" y="0.35" width="30.60" height="8.30" fill="none" stroke="#5e5e5e" stroke-width="0.6"/>
<g filter="url(#b6)">
<rect x="2.43" y="2.60" width="10.00" height="2.80" rx="1.40" fill="#232323"/>
</g>
</svg>
<text x="280.30" y="315.30" font-size="7.7" stroke="#111" stroke-width="0.15" text-anchor="end" textLength="19.50" lengthAdjust="spacingAndGlyphs" fill="#111" >PIM-1</text>
<svg x="284.70" y="321.80" width="31.30" height="8.60" overflow="hidden">
<rect width="31.30" height="8.60" fill="#bebebe"/>
<rect x="0.35" y="0.35" width="30.60" height="7.90" fill="none" stroke="#acacac" stroke-width="0.6"/>
<g filter="url(#b6)">
<rect x="1.68" y="2.80" width="11.50" height="3.60" rx="1.80" fill="#191919"/>
<rect x="18.08" y="3.50" width="10.00" height="2.20" rx="1.10" fill="#3c3c3c"/>
</g>
</svg>
<text x="280.30" y="328.70" font-size="7.7" stroke="#111" stroke-width="0.15" text-anchor="end" textLength="20.30" lengthAdjust="spacingAndGlyphs" fill="#111" >c-Myc</text>
<svg x="284.70" y="335.20" width="31.30" height="7.80" overflow="hidden">
<rect width="31.30" height="7.80" fill="#bebebe"/>
<rect x="0.35" y="0.35" width="30.60" height="7.10" fill="none" stroke="#acacac" stroke-width="0.6"/>
<g filter="url(#b6)">
<rect x="1.93" y="3.40" width="11.00" height="2.00" rx="1.00" fill="#4b4b4b"/>
<rect x="18.08" y="3.40" width="10.00" height="2.00" rx="1.00" fill="#4b4b4b"/>
</g>
</svg>
<text x="280.30" y="341.70" font-size="7.7" stroke="#111" stroke-width="0.15" text-anchor="end" textLength="17.30" lengthAdjust="spacingAndGlyphs" fill="#111" >Actin</text>
<svg x="284.70" y="353.30" width="31.30" height="8.40" overflow="hidden">
<rect width="31.30" height="8.40" fill="#c8c8c8"/>
<rect x="0.35" y="0.35" width="30.60" height="7.70" fill="none" stroke="#b6b6b6" stroke-width="0.6"/>
<g filter="url(#b6)">
<rect x="3.43" y="2.50" width="8.00" height="1.80" rx="0.90" fill="#505050"/>
</g>
</svg>
<text x="280.30" y="360.10" font-size="7.7" stroke="#111" stroke-width="0.15" text-anchor="end" textLength="19.50" lengthAdjust="spacingAndGlyphs" fill="#111" >PIM-1</text>
<svg x="284.70" y="366.30" width="31.30" height="8.50" overflow="hidden">
<rect width="31.30" height="8.50" fill="#c4c4c4"/>
<rect x="0.35" y="0.35" width="30.60" height="7.80" fill="none" stroke="#b2b2b2" stroke-width="0.6"/>
<g filter="url(#b6)">
<rect x="1.68" y="2.40" width="11.50" height="4.50" rx="2.25" fill="#191919"/>
</g>
</svg>
<text x="280.30" y="373.15" font-size="7.7" stroke="#111" stroke-width="0.15" text-anchor="end" textLength="20.30" lengthAdjust="spacingAndGlyphs" fill="#111" >c-Myc</text>
<svg x="284.70" y="380.00" width="31.30" height="8.00" overflow="hidden">
<rect width="31.30" height="8.00" fill="#b4b4b4"/>
<rect x="0.35" y="0.35" width="30.60" height="7.30" fill="none" stroke="#a2a2a2" stroke-width="0.6"/>
<g filter="url(#b6)">
<rect x="1.68" y="2.70" width="11.50" height="2.60" rx="1.30" fill="#5a5a5a"/>
<rect x="17.58" y="2.70" width="11.00" height="2.60" rx="1.30" fill="#5a5a5a"/>
</g>
</svg>
<text x="280.30" y="386.60" font-size="7.7" stroke="#111" stroke-width="0.15" text-anchor="end" textLength="17.30" lengthAdjust="spacingAndGlyphs" fill="#111" >Actin</text>
<text x="370.80" y="243.80" font-size="7.6" stroke="#111" stroke-width="0.15" text-anchor="middle" textLength="20.00" lengthAdjust="spacingAndGlyphs" fill="#111" >siRNA</text>
<line x1="346.10" y1="248.70" x2="395.80" y2="248.70" stroke="#222" stroke-width="0.9" />
<text x="370.70" y="259.60" font-size="7.9" stroke="#111" stroke-width="0.15" text-anchor="middle" textLength="34.50" lengthAdjust="spacingAndGlyphs" fill="#111" >Con PIM-2</text>
<svg x="355.60" y="265.50" width="30.20" height="8.00" overflow="hidden">
<rect width="30.20" height="8.00" fill="#b9b9b9"/>
<rect x="0.35" y="0.35" width="29.50" height="7.30" fill="none" stroke="#a7a7a7" stroke-width="0.6"/>
<g filter="url(#b6)">
<rect x="1.15" y="1.50" width="12.00" height="4.00" rx="2.00" fill="#3c3c3c"/>
<rect x="16.25" y="2.25" width="12.00" height="3.50" rx="1.75" fill="#a5a5a5"/>
</g>
</svg>
<text x="351.20" y="272.10" font-size="7.7" stroke="#111" stroke-width="0.15" text-anchor="end" textLength="19.50" lengthAdjust="spacingAndGlyphs" fill="#111" >PIM-2</text>
<svg x="355.60" y="278.00" width="30.20" height="8.20" overflow="hidden">
<rect width="30.20" height="8.20" fill="#c6c6c6"/>
<rect x="0.35" y="0.35" width="29.50" height="7.50" fill="none" stroke="#b4b4b4" stroke-width="0.6"/>
<g filter="url(#b6)">
<rect x="2.15" y="2.80" width="10.00" height="1.60" rx="0.80" fill="#505050"/>
</g>
</svg>
<text x="351.20" y="284.70" font-size="7.7" stroke="#111" stroke-width="0.15" text-anchor="end" textLength="20.30" lengthAdjust="spacingAndGlyphs" fill="#111" >c-Myc</text>
<svg x="355.60" y="291.20" width="30.20" height="7.60" overflow="hidden">
<rect width="30.20" height="7.60" fill="#b4b4b4"/>
<rect x="0.35" y="0.35" width="29.50" height="6.90" fill="none" stroke="#a2a2a2" stroke-width="0.6"/>
<g filter="url(#b6)">
<rect x="1.65" y="2.70" width="11.00" height="2.20" rx="1.10" fill="#373737"/>
<rect x="16.75" y="3.20" width="11.00" height="2.20" rx="1.10" fill="#414141"/>
</g>
</svg>
<text x="351.20" y="297.60" font-size="7.7" stroke="#111" stroke-width="0.15" text-anchor="end" textLength="17.30" lengthAdjust="spacingAndGlyphs" fill="#111" >Actin</text>
<svg x="355.60" y="308.20" width="30.20" height="9.00" overflow="hidden">
<rect width="30.20" height="9.00" fill="#b4b4b4"/>
<rect x="0.35" y="0.35" width="29.50" height="8.30" fill="none" stroke="#a2a2a2" stroke-width="0.6"/>
<g filter="url(#b6)">
<rect x="1.65" y="2.95" width="11.00" height="2.50" rx="1.25" fill="#323232"/>
<rect x="17.75" y="3.10" width="9.00" height="2.20" rx="1.10" fill="#5a5a5a"/>
</g>
</svg>
<text x="351.20" y="315.30" font-size="7.7" stroke="#111" stroke-width="0.15" text-anchor="end" textLength="19.50" lengthAdjust="spacingAndGlyphs" fill="#111" >PIM-2</text>
<svg x="355.60" y="321.80" width="30.20" height="8.60" overflow="hidden">
<rect width="30.20" height="8.60" fill="#b9b9b9"/>
<rect x="0.35" y="0.35" width="29.50" height="7.90" fill="none" stroke="#a7a7a7" stroke-width="0.6"/>
<g filter="url(#b6)">
<rect x="1.65" y="2.40" width="11.00" height="3.80" rx="1.90" fill="#323232"/>
<rect x="18.25" y="3.40" width="8.00" height="1.80" rx="0.90" fill="#969696"/>
</g>
</svg>
<text x="351.20" y="328.70" font-size="7.7" stroke="#111" stroke-width="0.15" text-anchor="end" textLength="20.30" lengthAdjust="spacingAndGlyphs" fill="#111" >c-Myc</text>
<svg x="355.60" y="335.20" width="30.20" height="7.80" overflow="hidden">
<rect width="30.20" height="7.80" fill="#bebebe"/>
<rect x="0.35" y="0.35" width="29.50" height="7.10" fill="none" stroke="#acacac" stroke-width="0.6"/>
<g filter="url(#b6)">
<rect x="1.65" y="2.90" width="11.00" height="2.00" rx="1.00" fill="#555555"/>
<rect x="16.75" y="2.90" width="11.00" height="2.00" rx="1.00" fill="#5a5a5a"/>
</g>
</svg>
<text x="351.20" y="341.70" font-size="7.7" stroke="#111" stroke-width="0.15" text-anchor="end" textLength="17.30" lengthAdjust="spacingAndGlyphs" fill="#111" >Actin</text>
<svg x="355.60" y="353.30" width="30.20" height="8.40" overflow="hidden">
<rect width="30.20" height="8.40" fill="#afafaf"/>
<rect x="0.35" y="0.35" width="29.50" height="7.70" fill="none" stroke="#9d9d9d" stroke-width="0.6"/>
<g filter="url(#b6)">
<rect x="0.65" y="1.70" width="13.00" height="5.00" rx="2.50" fill="#191919"/>
<rect x="16.25" y="2.45" width="12.00" height="3.50" rx="1.75" fill="#a0a0a0"/>
</g>
</svg>
<text x="351.20" y="360.10" font-size="7.7" stroke="#111" stroke-width="0.15" text-anchor="end" textLength="19.50" lengthAdjust="spacingAndGlyphs" fill="#111" >PIM-2</text>
<svg x="355.60" y="366.30" width="30.20" height="8.50" overflow="hidden">
<rect width="30.20" height="8.50" fill="#b6b6b6"/>
<rect x="0.35" y="0.35" width="29.50" height="7.80" fill="none" stroke="#a4a4a4" stroke-width="0.6"/>
<g filter="url(#b6)">
<rect x="1.65" y="3.05" width="11.00" height="2.40" rx="1.20" fill="#555555"/>
<rect x="17.25" y="3.25" width="10.00" height="2.00" rx="1.00" fill="#7d7d7d"/>
</g>
</svg>
<text x="351.20" y="373.15" font-size="7.7" stroke="#111" stroke-width="0.15" text-anchor="end" textLength="20.30" lengthAdjust="spacingAndGlyphs" fill="#111" >c-Myc</text>
<svg x="355.60" y="380.00" width="30.20" height="8.00" overflow="hidden">
<rect width="30.20" height="8.00" fill="#a5a5a5"/>
<rect x="0.35" y="0.35" width="29.50" height="7.30" fill="none" stroke="#939393" stroke-width="0.6"/>
<g filter="url(#b6)">
<rect x="1.40" y="2.25" width="11.50" height="3.50" rx="1.75" fill="#5f5f5f"/>
<rect x="16.50" y="2.25" width="11.50" height="3.50" rx="1.75" fill="#5f5f5f"/>
</g>
</svg>
<text x="351.20" y="386.60" font-size="7.7" stroke="#111" stroke-width="0.15" text-anchor="end" textLength="17.30" lengthAdjust="spacingAndGlyphs" fill="#111" >Actin</text>
<text x="437.20" y="243.80" font-size="7.6" stroke="#111" stroke-width="0.15" text-anchor="middle" textLength="20.00" lengthAdjust="spacingAndGlyphs" fill="#111" >siRNA</text>
<line x1="412.50" y1="248.70" x2="461.80" y2="248.70" stroke="#222" stroke-width="0.9" />
<text x="437.10" y="259.60" font-size="7.9" stroke="#111" stroke-width="0.15" text-anchor="middle" textLength="34.50" lengthAdjust="spacingAndGlyphs" fill="#111" >Con PIM-3</text>
<svg x="422.60" y="265.50" width="30.00" height="8.00" overflow="hidden">
<rect width="30.00" height="8.00" fill="#b4b4b4"/>
<rect x="0.35" y="0.35" width="29.30" height="7.30" fill="none" stroke="#a2a2a2" stroke-width="0.6"/>
<g filter="url(#b6)">
<rect x="0.85" y="1.25" width="12.50" height="5.50" rx="2.75" fill="#6e6e6e"/>
<rect x="16.10" y="1.50" width="12.00" height="5.00" rx="2.50" fill="#aaaaaa"/>
</g>
</svg>
<text x="417.70" y="272.10" font-size="7.7" stroke="#111" stroke-width="0.15" text-anchor="end" textLength="19.50" lengthAdjust="spacingAndGlyphs" fill="#111" >PIM-3</text>
<svg x="422.60" y="278.00" width="30.00" height="8.20" overflow="hidden">
<rect width="30.00" height="8.20" fill="#cdcdcd"/>
<rect x="0.35" y="0.35" width="29.30" height="7.50" fill="none" stroke="#bbbbbb" stroke-width="0.6"/>
<g filter="url(#b6)">
<rect x="1.10" y="2.70" width="12.00" height="4.00" rx="2.00" fill="#121212"/>
</g>
</svg>
<text x="417.70" y="284.70" font-size="7.7" stroke="#111" stroke-width="0.15" text-anchor="end" textLength="20.30" lengthAdjust="spacingAndGlyphs" fill="#111" >c-Myc</text>
<svg x="422.60" y="291.20" width="30.00" height="7.60" overflow="hidden">
<rect width="30.00" height="7.60" fill="#bebebe"/>
<rect x="0.35" y="0.35" width="29.30" height="6.90" fill="none" stroke="#acacac" stroke-width="0.6"/>
<g filter="url(#b6)">
<rect x="1.60" y="3.30" width="11.00" height="1.60" rx="0.80" fill="#505050"/>
<rect x="16.60" y="3.30" width="11.00" height="1.60" rx="0.80" fill="#505050"/>
</g>
</svg>
<text x="417.70" y="297.60" font-size="7.7" stroke="#111" stroke-width="0.15" text-anchor="end" textLength="17.30" lengthAdjust="spacingAndGlyphs" fill="#111" >Actin</text>
<svg x="422.60" y="308.20" width="30.00" height="9.00" overflow="hidden">
<rect width="30.00" height="9.00" fill="#b4b4b4"/>
<rect x="0.35" y="0.35" width="29.30" height="8.30" fill="none" stroke="#a2a2a2" stroke-width="0.6"/>
<g filter="url(#b6)">
<rect x="1.10" y="1.75" width="12.00" height="5.50" rx="2.75" fill="#4b4b4b"/>
<rect x="16.10" y="2.00" width="12.00" height="5.00" rx="2.50" fill="#a5a5a5"/>
</g>
</svg>
<text x="417.70" y="315.30" font-size="7.7" stroke="#111" stroke-width="0.15" text-anchor="end" textLength="19.50" lengthAdjust="spacingAndGlyphs" fill="#111" >PIM-3</text>
<svg x="422.60" y="321.80" width="30.00" height="8.60" overflow="hidden">
<rect width="30.00" height="8.60" fill="#afafaf"/>
<rect x="0.35" y="0.35" width="29.30" height="7.90" fill="none" stroke="#9d9d9d" stroke-width="0.6"/>
<g filter="url(#b6)">
<rect x="0.85" y="1.30" width="12.50" height="6.00" rx="3.00" fill="#3c3c3c"/>
<rect x="16.10" y="1.80" width="12.00" height="5.00" rx="2.50" fill="#8c8c8c"/>
</g>
</svg>
<text x="417.70" y="328.70" font-size="7.7" stroke="#111" stroke-width="0.15" text-anchor="end" textLength="20.30" lengthAdjust="spacingAndGlyphs" fill="#111" >c-Myc</text>
<svg x="422.60" y="335.20" width="30.00" height="7.80" overflow="hidden">
<rect width="30.00" height="7.80" fill="#b9b9b9"/>
<rect x="0.35" y="0.35" width="29.30" height="7.10" fill="none" stroke="#a7a7a7" stroke-width="0.6"/>
<g filter="url(#b6)">
<rect x="1.10" y="2.60" width="12.00" height="2.60" rx="1.30" fill="#464646"/>
<rect x="16.10" y="2.60" width="12.00" height="2.60" rx="1.30" fill="#4b4b4b"/>
</g>
</svg>
<text x="417.70" y="341.70" font-size="7.7" stroke="#111" stroke-width="0.15" text-anchor="end" textLength="17.30" lengthAdjust="spacingAndGlyphs" fill="#111" >Actin</text>
<svg x="422.60" y="353.30" width="30.00" height="8.40" overflow="hidden">
<rect width="30.00" height="8.40" fill="#aaaaaa"/>
<rect x="0.35" y="0.35" width="29.30" height="7.70" fill="none" stroke="#989898" stroke-width="0.6"/>
<g filter="url(#b6)">
<rect x="0.85" y="1.95" width="12.50" height="4.50" rx="2.25" fill="#4b4b4b"/>
<rect x="16.10" y="2.20" width="12.00" height="4.00" rx="2.00" fill="#828282"/>
</g>
</svg>
<text x="417.70" y="360.10" font-size="7.7" stroke="#111" stroke-width="0.15" text-anchor="end" textLength="19.50" lengthAdjust="spacingAndGlyphs" fill="#111" >PIM-3</text>
<svg x="422.60" y="366.30" width="30.00" height="8.50" overflow="hidden">
<rect width="30.00" height="8.50" fill="#afafaf"/>
<rect x="0.35" y="0.35" width="29.30" height="7.80" fill="none" stroke="#9d9d9d" stroke-width="0.6"/>
<g filter="url(#b6)">
<rect x="0.85" y="2.55" width="12.50" height="3.40" rx="1.70" fill="#5a5a5a"/>
<rect x="16.10" y="2.55" width="12.00" height="3.40" rx="1.70" fill="#646464"/>
</g>
</svg>
<text x="417.70" y="373.15" font-size="7.7" stroke="#111" stroke-width="0.15" text-anchor="end" textLength="20.30" lengthAdjust="spacingAndGlyphs" fill="#111" >c-Myc</text>
<svg x="422.60" y="380.00" width="30.00" height="8.00" overflow="hidden">
<rect width="30.00" height="8.00" fill="#aaaaaa"/>
<rect x="0.35" y="0.35" width="29.30" height="7.30" fill="none" stroke="#989898" stroke-width="0.6"/>
<g filter="url(#b6)">
<rect x="0.85" y="2.50" width="12.50" height="3.00" rx="1.50" fill="#5a5a5a"/>
<rect x="16.10" y="2.50" width="12.00" height="3.00" rx="1.50" fill="#5a5a5a"/>
</g>
</svg>
<text x="417.70" y="386.60" font-size="7.7" stroke="#111" stroke-width="0.15" text-anchor="end" textLength="17.30" lengthAdjust="spacingAndGlyphs" fill="#111" >Actin</text>
<path d="M254.80,266.20 L252.00,266.20 Q250.80,266.20 250.80,267.40 L250.80,296.20 Q250.80,297.40 252.00,297.40 L254.80,297.40 M250.80,281.80 L246.40,281.80" fill="none" stroke="#222" stroke-width="0.85"/>
<path d="M253.80,308.90 L251.00,308.90 Q249.80,308.90 249.80,310.10 L249.80,340.20 Q249.80,341.40 251.00,341.40 L253.80,341.40 M249.80,325.15 L245.60,325.15" fill="none" stroke="#222" stroke-width="0.85"/>
<path d="M253.80,354.60 L251.00,354.60 Q249.80,354.60 249.80,355.80 L249.80,385.70 Q249.80,386.90 251.00,386.90 L253.80,386.90 M249.80,370.75 L245.60,370.75" fill="none" stroke="#222" stroke-width="0.85"/>
<text x="242.60" y="284.40" font-size="7.8" stroke="#111" stroke-width="0.15" text-anchor="end" textLength="23.00" lengthAdjust="spacingAndGlyphs" fill="#111" >MM.1S</text>
<text x="243.00" y="322.40" font-size="7.8" stroke="#111" stroke-width="0.15" text-anchor="end" textLength="20.30" lengthAdjust="spacingAndGlyphs" fill="#111" >RPMI-</text>
<text x="243.00" y="332.80" font-size="7.8" stroke="#111" stroke-width="0.15" text-anchor="end" textLength="16.50" lengthAdjust="spacingAndGlyphs" fill="#111" >8226</text>
<text x="243.00" y="368.60" font-size="7.8" stroke="#111" stroke-width="0.15" text-anchor="end" textLength="14.50" lengthAdjust="spacingAndGlyphs" fill="#111" >NCI-</text>
<text x="243.00" y="378.40" font-size="7.8" stroke="#111" stroke-width="0.15" text-anchor="end" textLength="17.50" lengthAdjust="spacingAndGlyphs" fill="#111" >H929</text>
<text x="6.40" y="447.60" font-size="11" stroke="#111" stroke-width="0.15" textLength="6.00" lengthAdjust="spacingAndGlyphs" fill="#111" >F</text>
<text x="19.40" y="460.80" font-size="8.0" stroke="#111" stroke-width="0.15" textLength="27.40" lengthAdjust="spacingAndGlyphs" fill="#111" >Ter [µM]</text>
<text x="60.70" y="460.80" font-size="8.0" stroke="#111" stroke-width="0.15" text-anchor="middle" textLength="5.30" lengthAdjust="spacingAndGlyphs" fill="#111" >C</text>
<text x="81.60" y="460.80" font-size="8.0" stroke="#111" stroke-width="0.15" text-anchor="middle" textLength="8.10" lengthAdjust="spacingAndGlyphs" fill="#111" >50</text>
<text x="101.30" y="460.80" font-size="8.0" stroke="#111" stroke-width="0.15" text-anchor="middle" textLength="12.90" lengthAdjust="spacingAndGlyphs" fill="#111" >100</text>
<text x="120.20" y="460.80" font-size="8.0" stroke="#111" stroke-width="0.15" text-anchor="middle" textLength="13.00" lengthAdjust="spacingAndGlyphs" fill="#111" >200</text>
<svg x="50.00" y="466.20" width="83.90" height="16.30" overflow="hidden">
<rect width="83.90" height="16.30" fill="#c8c8c8"/>
<rect x="0.35" y="0.35" width="83.20" height="15.60" fill="none" stroke="#b6b6b6" stroke-width="0.6"/>
<g filter="url(#b8)">
<rect x="1.50" y="4.50" width="19.00" height="3.00" rx="1.50" fill="#373737"/>
<rect x="21.95" y="4.10" width="18.50" height="3.40" rx="1.70" fill="#373737"/>
<rect x="41.80" y="3.50" width="18.00" height="3.40" rx="1.70" fill="#3c3c3c"/>
<rect x="63.00" y="6.05" width="15.00" height="1.50" rx="0.75" fill="#b9b9b9"/>
</g>
</svg>
<text x="47.40" y="477.75" font-size="8.1" stroke="#111" stroke-width="0.15" text-anchor="end" textLength="20.20" lengthAdjust="spacingAndGlyphs" fill="#111" >c-Myc</text>
<svg x="50.00" y="487.90" width="83.90" height="16.90" overflow="hidden">
<rect width="83.90" height="16.90" fill="#c6c6c6"/>
<rect x="0.35" y="0.35" width="83.20" height="16.20" fill="none" stroke="#b4b4b4" stroke-width="0.6"/>
<g filter="url(#b8)">
<rect x="1.00" y="4.60" width="20.00" height="5.00" rx="2.50" fill="#1e1e1e"/>
<rect x="21.45" y="5.60" width="19.50" height="5.00" rx="2.50" fill="#202020"/>
<rect x="41.05" y="5.60" width="19.50" height="5.00" rx="2.50" fill="#202020"/>
<rect x="61.50" y="6.70" width="18.00" height="4.40" rx="2.20" fill="#232323"/>
</g>
</svg>
<text x="47.40" y="498.95" font-size="8.1" stroke="#111" stroke-width="0.15" text-anchor="end" textLength="17.30" lengthAdjust="spacingAndGlyphs" fill="#111" >Actin</text>
<svg x="50.00" y="511.00" width="83.90" height="16.00" overflow="hidden">
<rect width="83.90" height="16.00" fill="#c6c6c6"/>
<rect x="0.35" y="0.35" width="83.20" height="15.30" fill="none" stroke="#b4b4b4" stroke-width="0.6"/>
<g filter="url(#b8)">
<rect x="1.50" y="6.20" width="19.00" height="3.60" rx="1.80" fill="#282828"/>
<rect x="22.95" y="7.30" width="16.50" height="3.00" rx="1.50" fill="#464646"/>
<rect x="43.30" y="7.50" width="15.00" height="2.60" rx="1.30" fill="#646464"/>
<rect x="63.50" y="8.70" width="14.00" height="1.60" rx="0.80" fill="#aaaaaa"/>
</g>
</svg>
<text x="47.40" y="522.40" font-size="8.1" stroke="#111" stroke-width="0.15" text-anchor="end" textLength="20.20" lengthAdjust="spacingAndGlyphs" fill="#111" >c-Myc</text>
<svg x="50.00" y="530.60" width="83.90" height="16.30" overflow="hidden">
<rect width="83.90" height="16.30" fill="#c4c4c4"/>
<rect x="0.35" y="0.35" width="83.20" height="15.60" fill="none" stroke="#b2b2b2" stroke-width="0.6"/>
<g filter="url(#b8)">
<rect x="1.00" y="5.90" width="20.00" height="4.60" rx="2.30" fill="#232323"/>
<rect x="21.45" y="5.90" width="19.50" height="4.60" rx="2.30" fill="#232323"/>
<rect x="41.05" y="5.90" width="19.50" height="4.60" rx="2.30" fill="#232323"/>
<rect x="61.50" y="6.20" width="18.00" height="4.40" rx="2.20" fill="#262626"/>
</g>
</svg>
<text x="47.40" y="541.35" font-size="8.1" stroke="#111" stroke-width="0.15" text-anchor="end" textLength="17.30" lengthAdjust="spacingAndGlyphs" fill="#111" >Actin</text>
<svg x="50.00" y="552.30" width="83.90" height="20.60" overflow="hidden">
<rect width="83.90" height="20.60" fill="#c4c4c4"/>
<rect x="0.35" y="0.35" width="83.20" height="19.90" fill="none" stroke="#b2b2b2" stroke-width="0.6"/>
<g filter="url(#b8)">
<rect x="0.75" y="8.70" width="18.50" height="5.20" rx="2.60" fill="#262626"/>
<rect x="21.95" y="8.90" width="18.50" height="5.20" rx="2.60" fill="#282828"/>
<rect x="42.05" y="9.00" width="17.50" height="5.00" rx="2.50" fill="#2d2d2d"/>
<rect x="61.00" y="10.00" width="15.00" height="3.80" rx="1.90" fill="#505050"/>
</g>
</svg>
<text x="47.40" y="566.00" font-size="8.1" stroke="#111" stroke-width="0.15" text-anchor="end" textLength="20.20" lengthAdjust="spacingAndGlyphs" fill="#111" >c-Myc</text>
<svg x="50.00" y="575.80" width="83.90" height="17.30" overflow="hidden">
<rect width="83.90" height="17.30" fill="#c0c0c0"/>
<rect x="0.35" y="0.35" width="83.20" height="16.60" fill="none" stroke="#aeaeae" stroke-width="0.6"/>
<g filter="url(#b8)">
<rect x="1.00" y="8.00" width="20.00" height="4.40" rx="2.20" fill="#232323"/>
<rect x="21.45" y="8.10" width="19.50" height="4.20" rx="2.10" fill="#262626"/>
<rect x="41.05" y="8.10" width="19.50" height="4.20" rx="2.10" fill="#282828"/>
<rect x="61.75" y="8.30" width="17.50" height="2.60" rx="1.30" fill="#323232"/>
</g>
</svg>
<text x="47.40" y="587.05" font-size="8.1" stroke="#111" stroke-width="0.15" text-anchor="end" textLength="17.30" lengthAdjust="spacingAndGlyphs" fill="#111" >Actin</text>
<svg x="50.00" y="598.80" width="83.90" height="19.90" overflow="hidden">
<rect width="83.90" height="19.90" fill="#c0c0c0"/>
<rect x="0.35" y="0.35" width="83.20" height="19.20" fill="none" stroke="#aeaeae" stroke-width="0.6"/>
<g filter="url(#b8)">
<rect x="1.75" y="7.10" width="18.50" height="5.00" rx="2.50" fill="#2d2d2d"/>
<rect x="22.70" y="9.70" width="17.00" height="3.60" rx="1.80" fill="#828282"/>
<rect x="42.30" y="9.70" width="17.00" height="3.60" rx="1.80" fill="#7d7d7d"/>
<rect x="63.00" y="10.70" width="15.00" height="3.00" rx="1.50" fill="#969696"/>
</g>
</svg>
<text x="47.40" y="612.15" font-size="8.1" stroke="#111" stroke-width="0.15" text-anchor="end" textLength="20.20" lengthAdjust="spacingAndGlyphs" fill="#111" >c-Myc</text>
<svg x="50.00" y="622.90" width="83.90" height="21.30" overflow="hidden">
<rect width="83.90" height="21.30" fill="#b2b2b2"/>
<rect x="0.35" y="0.35" width="83.20" height="20.60" fill="none" stroke="#a0a0a0" stroke-width="0.6"/>
<g filter="url(#b8)">
<rect x="1.00" y="9.60" width="20.00" height="5.00" rx="2.50" fill="#232323"/>
<rect x="21.20" y="9.80" width="20.00" height="5.00" rx="2.50" fill="#232323"/>
<rect x="40.80" y="9.80" width="20.00" height="5.00" rx="2.50" fill="#202020"/>
<rect x="61.00" y="9.80" width="19.00" height="5.00" rx="2.50" fill="#232323"/>
</g>
</svg>
<text x="47.40" y="636.15" font-size="8.1" stroke="#111" stroke-width="0.15" text-anchor="end" textLength="17.30" lengthAdjust="spacingAndGlyphs" fill="#111" >Actin</text>
<path d="M137.00,466.10 L139.80,466.10 Q141.00,466.10 141.00,467.30 L141.00,503.70 Q141.00,504.90 139.80,504.90 L137.00,504.90 M141.00,485.50 L145.40,485.50" fill="none" stroke="#222" stroke-width="0.9"/>
<path d="M137.00,509.50 L139.80,509.50 Q141.00,509.50 141.00,510.70 L141.00,547.60 Q141.00,548.80 139.80,548.80 L137.00,548.80 M141.00,529.15 L145.40,529.15" fill="none" stroke="#222" stroke-width="0.9"/>
<path d="M137.00,553.90 L139.80,553.90 Q141.00,553.90 141.00,555.10 L141.00,592.20 Q141.00,593.40 139.80,593.40 L137.00,593.40 M141.00,573.65 L145.40,573.65" fill="none" stroke="#222" stroke-width="0.9"/>
<path d="M137.00,601.50 L139.80,601.50 Q141.00,601.50 141.00,602.70 L141.00,641.40 Q141.00,642.60 139.80,642.60 L137.00,642.60 M141.00,622.05 L145.40,622.05" fill="none" stroke="#222" stroke-width="0.9"/>
<text x="148.70" y="488.00" font-size="8.3" stroke="#111" stroke-width="0.15" textLength="22.80" lengthAdjust="spacingAndGlyphs" fill="#111" >MM.1S</text>
<text x="148.70" y="532.00" font-size="8.3" stroke="#111" stroke-width="0.15" textLength="26.20" lengthAdjust="spacingAndGlyphs" fill="#111" >KMS-18</text>
<text x="148.70" y="571.20" font-size="8.3" stroke="#111" stroke-width="0.15" textLength="20.00" lengthAdjust="spacingAndGlyphs" fill="#111" >RPMI-</text>
<text x="148.70" y="581.60" font-size="8.3" stroke="#111" stroke-width="0.15" textLength="16.30" lengthAdjust="spacingAndGlyphs" fill="#111" >8226</text>
<text x="148.70" y="619.60" font-size="8.3" stroke="#111" stroke-width="0.15" textLength="14.30" lengthAdjust="spacingAndGlyphs" fill="#111" >NCI-</text>
<text x="148.70" y="630.00" font-size="8.3" stroke="#111" stroke-width="0.15" textLength="17.30" lengthAdjust="spacingAndGlyphs" fill="#111" >H929</text>
<text x="206.30" y="448.00" font-size="11.5" stroke="#111" stroke-width="0.15" textLength="7.40" lengthAdjust="spacingAndGlyphs" fill="#111" >G</text>
<rect x="237.80" y="467.50" width="119.60" height="112.40" fill="none" stroke="#222" stroke-width="0.8"/>
<line x1="237.80" y1="468.10" x2="357.40" y2="468.10" stroke="#111" stroke-width="1.4" />
<line x1="237.80" y1="470.80" x2="357.40" y2="470.80" stroke="#888" stroke-width="0.9" />
<line x1="237.80" y1="521.30" x2="357.40" y2="521.30" stroke="#333" stroke-width="0.7" />
<line x1="235.80" y1="470.80" x2="237.80" y2="470.80" stroke="#222" stroke-width="0.7" />
<text x="232.00" y="472.10" font-size="3.6" text-anchor="end" textLength="5.20" lengthAdjust="spacingAndGlyphs" fill="#444" >0.0</text>
<line x1="235.80" y1="477.40" x2="237.80" y2="477.40" stroke="#222" stroke-width="0.7" />
<text x="232.00" y="478.70" font-size="3.6" text-anchor="end" textLength="6.60" lengthAdjust="spacingAndGlyphs" fill="#444" >-0.1</text>
<line x1="235.80" y1="484.00" x2="237.80" y2="484.00" stroke="#222" stroke-width="0.7" />
<text x="232.00" y="485.30" font-size="3.6" text-anchor="end" textLength="6.60" lengthAdjust="spacingAndGlyphs" fill="#444" >-0.2</text>
<line x1="235.80" y1="490.60" x2="237.80" y2="490.60" stroke="#222" stroke-width="0.7" />
<text x="232.00" y="491.90" font-size="3.6" text-anchor="end" textLength="6.60" lengthAdjust="spacingAndGlyphs" fill="#444" >-0.3</text>
<line x1="235.80" y1="497.20" x2="237.80" y2="497.20" stroke="#222" stroke-width="0.7" />
<text x="232.00" y="498.50" font-size="3.6" text-anchor="end" textLength="6.60" lengthAdjust="spacingAndGlyphs" fill="#444" >-0.4</text>
<line x1="235.80" y1="503.80" x2="237.80" y2="503.80" stroke="#222" stroke-width="0.7" />
<text x="232.00" y="505.10" font-size="3.6" text-anchor="end" textLength="6.60" lengthAdjust="spacingAndGlyphs" fill="#444" >-0.5</text>
<line x1="235.80" y1="510.40" x2="237.80" y2="510.40" stroke="#222" stroke-width="0.7" />
<text x="232.00" y="511.70" font-size="3.6" text-anchor="end" textLength="6.60" lengthAdjust="spacingAndGlyphs" fill="#444" >-0.6</text>
<line x1="235.80" y1="517.00" x2="237.80" y2="517.00" stroke="#222" stroke-width="0.7" />
<text x="232.00" y="518.30" font-size="3.6" text-anchor="end" textLength="6.60" lengthAdjust="spacingAndGlyphs" fill="#444" >-0.7</text>
<text x="219.60" y="494.20" font-size="4.0" text-anchor="middle" textLength="50.00" lengthAdjust="spacingAndGlyphs" fill="#444" transform="rotate(-90 219.60 494.20)" >Enrichment score (ES)</text>
<text x="219.60" y="564.20" font-size="4.0" text-anchor="middle" textLength="70.50" lengthAdjust="spacingAndGlyphs" fill="#444" transform="rotate(-90 219.60 564.20)" >Ranked list metric (PreRanked)</text>
<line x1="239.30" y1="521.30" x2="239.30" y2="539.60" stroke="#888" stroke-width="0.6" />
<line x1="255.40" y1="521.30" x2="255.40" y2="539.60" stroke="#444" stroke-width="0.6" />
<line x1="257.80" y1="521.30" x2="257.80" y2="539.60" stroke="#888" stroke-width="0.6" />
<line x1="262.60" y1="521.30" x2="262.60" y2="539.60" stroke="#999" stroke-width="0.6" />
<line x1="265.00" y1="521.30" x2="265.00" y2="539.60" stroke="#999" stroke-width="0.6" />
<line x1="290.80" y1="521.30" x2="290.80" y2="539.60" stroke="#555" stroke-width="0.6" />
<line x1="295.10" y1="521.30" x2="295.10" y2="539.60" stroke="#888" stroke-width="0.6" />
<line x1="301.80" y1="521.30" x2="301.80" y2="539.60" stroke="#444" stroke-width="0.6" />
<line x1="304.70" y1="521.30" x2="304.70" y2="539.60" stroke="#888" stroke-width="0.6" />
<line x1="307.80" y1="521.30" x2="307.80" y2="539.60" stroke="#999" stroke-width="0.6" />
<line x1="316.70" y1="521.30" x2="316.70" y2="539.60" stroke="#666" stroke-width="0.6" />
<line x1="322.70" y1="521.30" x2="322.70" y2="539.60" stroke="#888" stroke-width="0.6" />
<line x1="324.40" y1="521.30" x2="324.40" y2="539.60" stroke="#444" stroke-width="0.6" />
<line x1="326.30" y1="521.30" x2="326.30" y2="539.60" stroke="#999" stroke-width="0.6" />
<line x1="330.00" y1="521.30" x2="330.00" y2="539.60" stroke="#666" stroke-width="0.6" />
<line x1="331.20" y1="521.30" x2="331.20" y2="539.60" stroke="#888" stroke-width="0.6" />
<line x1="335.50" y1="521.30" x2="335.50" y2="539.60" stroke="#444" stroke-width="0.6" />
<line x1="340.80" y1="521.30" x2="340.80" y2="539.60" stroke="#222" stroke-width="0.9" />
<line x1="342.00" y1="521.30" x2="342.00" y2="539.60" stroke="#555" stroke-width="0.6" />
<line x1="344.40" y1="521.30" x2="344.40" y2="539.60" stroke="#777" stroke-width="0.6" />
<line x1="346.80" y1="521.30" x2="346.80" y2="539.60" stroke="#111" stroke-width="0.9" />
<line x1="348.00" y1="521.30" x2="348.00" y2="539.60" stroke="#000" stroke-width="0.9" />
<line x1="349.20" y1="521.30" x2="349.20" y2="539.60" stroke="#222" stroke-width="0.9" />
<line x1="350.40" y1="521.30" x2="350.40" y2="539.60" stroke="#000" stroke-width="0.9" />
<rect x="238.10" y="539.60" width="20.67" height="4.20" fill="#d9676a" />
<rect x="258.57" y="539.60" width="17.25" height="4.20" fill="#e08c94" />
<rect x="275.62" y="539.60" width="20.67" height="4.20" fill="#e9b9d2" />
<rect x="296.09" y="539.60" width="21.80" height="4.20" fill="#dbcfe8" />
<rect x="317.69" y="539.60" width="7.02" height="4.20" fill="#c6b5de" />
<rect x="324.51" y="539.60" width="19.53" height="4.20" fill="#8b79c2" />
<rect x="343.84" y="539.60" width="8.16" height="4.20" fill="#4c2a8e" />
<text x="238.60" y="547.30" font-size="3.8" textLength="56.60" lengthAdjust="spacingAndGlyphs" fill="#c0485a" >"na_pos" (positively correlated)</text>
<line x1="235.80" y1="550.40" x2="237.80" y2="550.40" stroke="#222" stroke-width="0.7" />
<text x="232.00" y="551.70" font-size="3.6" text-anchor="end" textLength="4.40" lengthAdjust="spacingAndGlyphs" fill="#444" >10</text>
<line x1="235.80" y1="559.60" x2="237.80" y2="559.60" stroke="#222" stroke-width="0.7" />
<text x="232.00" y="560.90" font-size="3.6" text-anchor="end" textLength="2.20" lengthAdjust="spacingAndGlyphs" fill="#444" >0</text>
<line x1="235.80" y1="568.80" x2="237.80" y2="568.80" stroke="#222" stroke-width="0.7" />
<text x="232.00" y="570.10" font-size="3.6" text-anchor="end" textLength="5.80" lengthAdjust="spacingAndGlyphs" fill="#444" >-10</text>
<line x1="235.80" y1="578.00" x2="237.80" y2="578.00" stroke="#222" stroke-width="0.7" />
<text x="232.00" y="579.30" font-size="3.6" text-anchor="end" textLength="5.80" lengthAdjust="spacingAndGlyphs" fill="#444" >-20</text>
<path d="M238.10,559.60 L238.10,551.78 L239.52,554.26 L240.94,555.29 L242.36,556.07 L243.79,556.66 L245.21,557.12 L246.63,557.47 L248.05,557.74 L249.47,557.96 L250.89,558.13 L252.31,558.27 L253.73,558.39 L255.16,558.49 L256.58,558.58 L258.00,558.66 L259.42,558.73 L260.84,558.79 L262.26,558.85 L263.68,558.90 L265.10,558.95 L266.53,559.00 L267.95,559.05 L269.37,559.09 L270.79,559.14 L272.21,559.18 L273.63,559.22 L275.05,559.26 L276.47,559.29 L277.90,559.33 L279.32,559.36 L280.74,559.39 L282.16,559.42 L283.58,559.45 L285.00,559.48 L286.42,559.50 L287.84,559.53 L289.27,559.55 L290.69,559.57 L292.11,559.58 L293.53,559.59 L294.95,559.60 L294.95,559.60 Z" fill="#7d7d7d"/>
<path d="M294.95,559.60 L294.95,559.60 L296.37,559.62 L297.79,559.64 L299.21,559.68 L300.64,559.71 L302.06,559.75 L303.48,559.79 L304.90,559.83 L306.32,559.87 L307.74,559.92 L309.16,559.96 L310.58,560.01 L312.01,560.06 L313.43,560.11 L314.85,560.16 L316.27,560.22 L317.69,560.27 L319.11,560.33 L320.53,560.38 L321.95,560.44 L323.38,560.50 L324.80,560.56 L326.22,560.62 L327.64,560.68 L329.06,560.74 L330.48,560.80 L331.90,560.86 L333.32,560.93 L334.75,560.99 L336.17,561.06 L337.59,561.13 L339.01,561.20 L340.43,561.28 L341.85,561.37 L343.27,561.47 L344.69,561.62 L346.12,561.83 L347.54,562.17 L348.96,562.86 L350.38,565.06 L351.80,578.37 L351.80,578.92 L351.80,559.60 Z" fill="#7d7d7d"/>
<line x1="237.80" y1="559.60" x2="351.80" y2="559.60" stroke="#666" stroke-width="0.5" />
<text x="278.00" y="564.60" font-size="3.8" textLength="32.00" lengthAdjust="spacingAndGlyphs" fill="#333" >Zero cross at 7503</text>
<text x="347.70" y="577.00" font-size="3.8" text-anchor="end" textLength="59.20" lengthAdjust="spacingAndGlyphs" fill="#5a6aa8" >"na_neg" (negatively correlated)</text>
<line x1="237.80" y1="579.90" x2="357.40" y2="579.90" stroke="#111" stroke-width="1.1" />
<line x1="238.10" y1="579.90" x2="238.10" y2="582.50" stroke="#222" stroke-width="0.7" />
<text x="238.10" y="589.70" font-size="3.7" text-anchor="middle" textLength="1.80" lengthAdjust="spacingAndGlyphs" fill="#444" >0</text>
<line x1="257.05" y1="579.90" x2="257.05" y2="582.50" stroke="#222" stroke-width="0.7" />
<text x="257.05" y="589.70" font-size="3.7" text-anchor="middle" textLength="8.60" lengthAdjust="spacingAndGlyphs" fill="#444" >2,500</text>
<line x1="276.00" y1="579.90" x2="276.00" y2="582.50" stroke="#222" stroke-width="0.7" />
<text x="276.00" y="589.70" font-size="3.7" text-anchor="middle" textLength="8.60" lengthAdjust="spacingAndGlyphs" fill="#444" >5,000</text>
<line x1="294.95" y1="579.90" x2="294.95" y2="582.50" stroke="#222" stroke-width="0.7" />
<text x="294.95" y="589.70" font-size="3.7" text-anchor="middle" textLength="8.60" lengthAdjust="spacingAndGlyphs" fill="#444" >7,500</text>
<line x1="313.90" y1="579.90" x2="313.90" y2="582.50" stroke="#222" stroke-width="0.7" />
<text x="313.90" y="589.70" font-size="3.7" text-anchor="middle" textLength="10.40" lengthAdjust="spacingAndGlyphs" fill="#444" >10,000</text>
<line x1="332.85" y1="579.90" x2="332.85" y2="582.50" stroke="#222" stroke-width="0.7" />
<text x="332.85" y="589.70" font-size="3.7" text-anchor="middle" textLength="10.40" lengthAdjust="spacingAndGlyphs" fill="#444" >12,500</text>
<line x1="351.80" y1="579.90" x2="351.80" y2="582.50" stroke="#222" stroke-width="0.7" />
<text x="351.80" y="589.70" font-size="3.7" text-anchor="middle" textLength="10.40" lengthAdjust="spacingAndGlyphs" fill="#444" >15,000</text>
<text x="297.30" y="599.20" font-size="6.0" text-anchor="middle" textLength="54.20" lengthAdjust="spacingAndGlyphs" fill="#222" >Rank in ordered dataset</text>
<line x1="236.60" y1="607.40" x2="241.40" y2="607.40" stroke="#6cae45" stroke-width="0.8" />
<text x="242.80" y="608.60" font-size="3.7" textLength="34.20" lengthAdjust="spacingAndGlyphs" fill="#555" >Enrichment profile</text>
<line x1="283.40" y1="607.40" x2="287.60" y2="607.40" stroke="#333" stroke-width="0.8" />
<text x="289.10" y="608.60" font-size="3.7" textLength="7.10" lengthAdjust="spacingAndGlyphs" fill="#555" >Hits</text>
<line x1="303.90" y1="607.40" x2="308.70" y2="607.40" stroke="#ccc" stroke-width="0.8" />
<text x="310.30" y="608.60" font-size="3.7" textLength="45.00" lengthAdjust="spacingAndGlyphs" fill="#555" >Ranking metric scores</text>
<path d="M238.40,470.80 L241.00,472.50 L248.00,476.00 L255.50,479.40 L258.00,479.00 L261.00,479.60 L270.00,484.50 L290.00,496.20 L305.00,503.60 L320.00,511.20 L330.00,514.80 L334.00,515.50 L336.00,515.00 L338.00,517.20 L339.20,518.50 L340.50,515.00 L342.00,513.20 L343.50,512.50 L345.00,513.00 L347.00,510.50 L348.00,508.50 L349.00,502.00 L349.80,496.00 L350.50,487.00 L351.00,480.00 L351.50,470.80" fill="none" stroke="#6cae45" stroke-width="0.8"/>
<text x="248.00" y="462.60" font-size="5.2" textLength="97.50" lengthAdjust="spacingAndGlyphs" fill="#222" >Enrichment plot: MENSSEN_MYC_TARGETS</text>
<text x="290.90" y="623.30" font-size="8.5" stroke="#111" stroke-width="0.15" text-anchor="middle" textLength="24.30" lengthAdjust="spacingAndGlyphs" fill="#111" >MM.1S</text>
<text x="290.90" y="633.80" font-size="8.5" stroke="#111" stroke-width="0.15" text-anchor="middle" textLength="64.00" lengthAdjust="spacingAndGlyphs" fill="#111" >ES= -0.78; FDR= 0</text>
<rect x="383.80" y="467.60" width="119.80" height="112.10" fill="none" stroke="#222" stroke-width="0.8"/>
<line x1="383.80" y1="468.20" x2="503.60" y2="468.20" stroke="#111" stroke-width="1.4" />
<line x1="383.80" y1="470.80" x2="503.60" y2="470.80" stroke="#888" stroke-width="0.9" />
<line x1="383.80" y1="521.50" x2="503.60" y2="521.50" stroke="#333" stroke-width="0.7" />
<line x1="381.80" y1="470.80" x2="383.80" y2="470.80" stroke="#222" stroke-width="0.7" />
<text x="379.00" y="472.10" font-size="3.6" text-anchor="end" textLength="5.20" lengthAdjust="spacingAndGlyphs" fill="#444" >0.0</text>
<line x1="381.80" y1="477.00" x2="383.80" y2="477.00" stroke="#222" stroke-width="0.7" />
<text x="379.00" y="478.30" font-size="3.6" text-anchor="end" textLength="6.60" lengthAdjust="spacingAndGlyphs" fill="#444" >-0.1</text>
<line x1="381.80" y1="483.20" x2="383.80" y2="483.20" stroke="#222" stroke-width="0.7" />
<text x="379.00" y="484.50" font-size="3.6" text-anchor="end" textLength="6.60" lengthAdjust="spacingAndGlyphs" fill="#444" >-0.2</text>
<line x1="381.80" y1="489.40" x2="383.80" y2="489.40" stroke="#222" stroke-width="0.7" />
<text x="379.00" y="490.70" font-size="3.6" text-anchor="end" textLength="6.60" lengthAdjust="spacingAndGlyphs" fill="#444" >-0.3</text>
<line x1="381.80" y1="495.60" x2="383.80" y2="495.60" stroke="#222" stroke-width="0.7" />
<text x="379.00" y="496.90" font-size="3.6" text-anchor="end" textLength="6.60" lengthAdjust="spacingAndGlyphs" fill="#444" >-0.4</text>
<line x1="381.80" y1="501.80" x2="383.80" y2="501.80" stroke="#222" stroke-width="0.7" />
<text x="379.00" y="503.10" font-size="3.6" text-anchor="end" textLength="6.60" lengthAdjust="spacingAndGlyphs" fill="#444" >-0.5</text>
<line x1="381.80" y1="508.00" x2="383.80" y2="508.00" stroke="#222" stroke-width="0.7" />
<text x="379.00" y="509.30" font-size="3.6" text-anchor="end" textLength="6.60" lengthAdjust="spacingAndGlyphs" fill="#444" >-0.6</text>
<line x1="381.80" y1="514.20" x2="383.80" y2="514.20" stroke="#222" stroke-width="0.7" />
<text x="379.00" y="515.50" font-size="3.6" text-anchor="end" textLength="6.60" lengthAdjust="spacingAndGlyphs" fill="#444" >-0.7</text>
<line x1="381.80" y1="520.40" x2="383.80" y2="520.40" stroke="#222" stroke-width="0.7" />
<text x="379.00" y="521.70" font-size="3.6" text-anchor="end" textLength="6.60" lengthAdjust="spacingAndGlyphs" fill="#444" >-0.8</text>
<text x="365.40" y="497.70" font-size="4.0" text-anchor="middle" textLength="45.40" lengthAdjust="spacingAndGlyphs" fill="#444" transform="rotate(-90 365.40 497.70)" >Enrichment score (ES)</text>
<text x="365.40" y="559.70" font-size="4.0" text-anchor="middle" textLength="63.30" lengthAdjust="spacingAndGlyphs" fill="#444" transform="rotate(-90 365.40 559.70)" >Ranked list metric (PreRanked)</text>
<line x1="394.90" y1="521.50" x2="394.90" y2="539.80" stroke="#666" stroke-width="0.6" />
<line x1="406.90" y1="521.50" x2="406.90" y2="539.80" stroke="#888" stroke-width="0.6" />
<line x1="408.80" y1="521.50" x2="408.80" y2="539.80" stroke="#999" stroke-width="0.6" />
<line x1="414.90" y1="521.50" x2="414.90" y2="539.80" stroke="#777" stroke-width="0.6" />
<line x1="422.80" y1="521.50" x2="422.80" y2="539.80" stroke="#888" stroke-width="0.6" />
<line x1="424.50" y1="521.50" x2="424.50" y2="539.80" stroke="#999" stroke-width="0.6" />
<line x1="432.40" y1="521.50" x2="432.40" y2="539.80" stroke="#666" stroke-width="0.6" />
<line x1="435.80" y1="521.50" x2="435.80" y2="539.80" stroke="#888" stroke-width="0.6" />
<line x1="447.30" y1="521.50" x2="447.30" y2="539.80" stroke="#555" stroke-width="0.6" />
<line x1="449.70" y1="521.50" x2="449.70" y2="539.80" stroke="#888" stroke-width="0.6" />
<line x1="459.30" y1="521.50" x2="459.30" y2="539.80" stroke="#777" stroke-width="0.6" />
<line x1="462.20" y1="521.50" x2="462.20" y2="539.80" stroke="#999" stroke-width="0.6" />
<line x1="468.50" y1="521.50" x2="468.50" y2="539.80" stroke="#555" stroke-width="0.6" />
<line x1="471.30" y1="521.50" x2="471.30" y2="539.80" stroke="#888" stroke-width="0.6" />
<line x1="473.80" y1="521.50" x2="473.80" y2="539.80" stroke="#999" stroke-width="0.6" />
<line x1="477.40" y1="521.50" x2="477.40" y2="539.80" stroke="#888" stroke-width="0.6" />
<line x1="483.40" y1="521.50" x2="483.40" y2="539.80" stroke="#aaa" stroke-width="0.6" />
<line x1="484.20" y1="521.50" x2="484.20" y2="539.80" stroke="#999" stroke-width="0.6" />
<line x1="485.00" y1="521.50" x2="485.00" y2="539.80" stroke="#888" stroke-width="0.6" />
<line x1="485.80" y1="521.50" x2="485.80" y2="539.80" stroke="#777" stroke-width="0.6" />
<line x1="487.00" y1="521.50" x2="487.00" y2="539.80" stroke="#333" stroke-width="0.6" />
<line x1="489.40" y1="521.50" x2="489.40" y2="539.80" stroke="#111" stroke-width="0.9" />
<line x1="490.60" y1="521.50" x2="490.60" y2="539.80" stroke="#222" stroke-width="0.9" />
<line x1="493.00" y1="521.50" x2="493.00" y2="539.80" stroke="#000" stroke-width="0.9" />
<line x1="494.90" y1="521.50" x2="494.90" y2="539.80" stroke="#333" stroke-width="0.6" />
<line x1="496.60" y1="521.50" x2="496.60" y2="539.80" stroke="#000" stroke-width="0.9" />
<rect x="384.10" y="539.80" width="20.74" height="4.20" fill="#d9676a" />
<rect x="404.64" y="539.80" width="17.31" height="4.20" fill="#e08c94" />
<rect x="421.75" y="539.80" width="20.74" height="4.20" fill="#e9b9d2" />
<rect x="442.29" y="539.80" width="21.88" height="4.20" fill="#dbcfe8" />
<rect x="463.97" y="539.80" width="7.05" height="4.20" fill="#c6b5de" />
<rect x="470.82" y="539.80" width="19.60" height="4.20" fill="#8b79c2" />
<rect x="490.21" y="539.80" width="8.19" height="4.20" fill="#4c2a8e" />
<text x="384.60" y="547.50" font-size="3.8" textLength="56.60" lengthAdjust="spacingAndGlyphs" fill="#c0485a" >"na_pos" (positively correlated)</text>
<line x1="381.80" y1="545.90" x2="383.80" y2="545.90" stroke="#222" stroke-width="0.7" />
<text x="379.00" y="547.20" font-size="3.6" text-anchor="end" textLength="4.40" lengthAdjust="spacingAndGlyphs" fill="#444" >30</text>
<line x1="381.80" y1="552.40" x2="383.80" y2="552.40" stroke="#222" stroke-width="0.7" />
<text x="379.00" y="553.70" font-size="3.6" text-anchor="end" textLength="4.40" lengthAdjust="spacingAndGlyphs" fill="#444" >20</text>
<line x1="381.80" y1="558.90" x2="383.80" y2="558.90" stroke="#222" stroke-width="0.7" />
<text x="379.00" y="560.20" font-size="3.6" text-anchor="end" textLength="4.40" lengthAdjust="spacingAndGlyphs" fill="#444" >10</text>
<line x1="381.80" y1="565.40" x2="383.80" y2="565.40" stroke="#222" stroke-width="0.7" />
<text x="379.00" y="566.70" font-size="3.6" text-anchor="end" textLength="2.20" lengthAdjust="spacingAndGlyphs" fill="#444" >0</text>
<line x1="381.80" y1="571.90" x2="383.80" y2="571.90" stroke="#222" stroke-width="0.7" />
<text x="379.00" y="573.20" font-size="3.6" text-anchor="end" textLength="5.80" lengthAdjust="spacingAndGlyphs" fill="#444" >-10</text>
<line x1="381.80" y1="578.40" x2="383.80" y2="578.40" stroke="#222" stroke-width="0.7" />
<text x="379.00" y="579.70" font-size="3.6" text-anchor="end" textLength="5.80" lengthAdjust="spacingAndGlyphs" fill="#444" >-20</text>
<path d="M384.10,565.40 L384.10,558.57 L385.53,560.90 L386.95,561.82 L388.38,562.51 L389.81,563.03 L391.23,563.43 L392.66,563.73 L394.08,563.97 L395.51,564.15 L396.94,564.30 L398.36,564.41 L399.79,564.51 L401.22,564.59 L402.64,564.66 L404.07,564.72 L405.49,564.77 L406.92,564.82 L408.35,564.86 L409.77,564.90 L411.20,564.94 L412.62,564.98 L414.05,565.01 L415.48,565.04 L416.90,565.07 L418.33,565.10 L419.76,565.13 L421.18,565.16 L422.61,565.18 L424.03,565.21 L425.46,565.23 L426.89,565.25 L428.31,565.27 L429.74,565.30 L431.17,565.31 L432.59,565.33 L434.02,565.35 L435.44,565.36 L436.87,565.38 L438.30,565.39 L439.72,565.40 L441.15,565.40 L441.15,565.40 Z" fill="#7d7d7d"/>
<path d="M441.15,565.40 L441.15,565.40 L442.58,565.41 L444.00,565.43 L445.43,565.45 L446.85,565.48 L448.28,565.50 L449.71,565.53 L451.13,565.56 L452.56,565.59 L453.99,565.62 L455.41,565.66 L456.84,565.69 L458.26,565.73 L459.69,565.76 L461.12,565.80 L462.54,565.84 L463.97,565.87 L465.40,565.91 L466.82,565.95 L468.25,565.99 L469.67,566.03 L471.10,566.08 L472.53,566.12 L473.95,566.16 L475.38,566.20 L476.81,566.25 L478.23,566.29 L479.66,566.34 L481.08,566.38 L482.51,566.43 L483.94,566.48 L485.36,566.53 L486.79,566.58 L488.22,566.65 L489.64,566.72 L491.07,566.83 L492.50,566.97 L493.92,567.22 L495.35,567.71 L496.77,569.26 L498.20,578.66 L498.20,579.05 L498.20,565.40 Z" fill="#7d7d7d"/>
<line x1="383.80" y1="565.40" x2="498.20" y2="565.40" stroke="#666" stroke-width="0.5" />
<text x="426.80" y="563.10" font-size="3.8" textLength="31.00" lengthAdjust="spacingAndGlyphs" fill="#333" >Zero cross at 7604</text>
<text x="495.60" y="576.50" font-size="3.8" text-anchor="end" textLength="60.00" lengthAdjust="spacingAndGlyphs" fill="#5a6aa8" >"na_neg" (negatively correlated)</text>
<line x1="383.80" y1="579.70" x2="503.60" y2="579.70" stroke="#111" stroke-width="1.1" />
<line x1="384.10" y1="579.70" x2="384.10" y2="582.30" stroke="#222" stroke-width="0.7" />
<text x="384.10" y="589.50" font-size="3.7" text-anchor="middle" textLength="1.80" lengthAdjust="spacingAndGlyphs" fill="#444" >0</text>
<line x1="403.12" y1="579.70" x2="403.12" y2="582.30" stroke="#222" stroke-width="0.7" />
<text x="403.12" y="589.50" font-size="3.7" text-anchor="middle" textLength="8.60" lengthAdjust="spacingAndGlyphs" fill="#444" >2,500</text>
<line x1="422.13" y1="579.70" x2="422.13" y2="582.30" stroke="#222" stroke-width="0.7" />
<text x="422.13" y="589.50" font-size="3.7" text-anchor="middle" textLength="8.60" lengthAdjust="spacingAndGlyphs" fill="#444" >5,000</text>
<line x1="441.15" y1="579.70" x2="441.15" y2="582.30" stroke="#222" stroke-width="0.7" />
<text x="441.15" y="589.50" font-size="3.7" text-anchor="middle" textLength="8.60" lengthAdjust="spacingAndGlyphs" fill="#444" >7,500</text>
<line x1="460.17" y1="579.70" x2="460.17" y2="582.30" stroke="#222" stroke-width="0.7" />
<text x="460.17" y="589.50" font-size="3.7" text-anchor="middle" textLength="10.40" lengthAdjust="spacingAndGlyphs" fill="#444" >10,000</text>
<line x1="479.18" y1="579.70" x2="479.18" y2="582.30" stroke="#222" stroke-width="0.7" />
<text x="479.18" y="589.50" font-size="3.7" text-anchor="middle" textLength="10.40" lengthAdjust="spacingAndGlyphs" fill="#444" >12,500</text>
<line x1="498.20" y1="579.70" x2="498.20" y2="582.30" stroke="#222" stroke-width="0.7" />
<text x="498.20" y="589.50" font-size="3.7" text-anchor="middle" textLength="10.40" lengthAdjust="spacingAndGlyphs" fill="#444" >15,000</text>
<text x="443.40" y="599.20" font-size="6.0" text-anchor="middle" textLength="54.20" lengthAdjust="spacingAndGlyphs" fill="#222" >Rank in ordered dataset</text>
<line x1="382.60" y1="607.40" x2="387.40" y2="607.40" stroke="#6cae45" stroke-width="0.8" />
<text x="388.80" y="608.60" font-size="3.7" textLength="34.20" lengthAdjust="spacingAndGlyphs" fill="#555" >Enrichment profile</text>
<line x1="429.40" y1="607.40" x2="433.60" y2="607.40" stroke="#333" stroke-width="0.8" />
<text x="435.10" y="608.60" font-size="3.7" textLength="7.10" lengthAdjust="spacingAndGlyphs" fill="#555" >Hits</text>
<line x1="449.90" y1="607.40" x2="454.70" y2="607.40" stroke="#ccc" stroke-width="0.8" />
<text x="456.30" y="608.60" font-size="3.7" textLength="45.00" lengthAdjust="spacingAndGlyphs" fill="#555" >Ranking metric scores</text>
<path d="M384.40,470.80 L390.00,474.20 L392.00,475.50 L394.00,474.50 L396.00,476.20 L402.00,479.00 L410.00,483.00 L420.00,488.50 L430.00,493.50 L445.00,501.50 L460.00,509.00 L470.00,514.00 L478.00,517.00 L482.30,518.50 L486.20,516.50 L488.90,516.20 L490.00,512.70 L491.50,512.20 L493.80,501.20 L495.40,496.50 L497.00,479.60 L498.50,470.40" fill="none" stroke="#6cae45" stroke-width="0.8"/>
<text x="395.10" y="462.60" font-size="5.2" textLength="97.50" lengthAdjust="spacingAndGlyphs" fill="#222" >Enrichment plot: MENSSEN_MYC_TARGETS</text>
<text x="436.90" y="623.30" font-size="8.5" stroke="#111" stroke-width="0.15" text-anchor="middle" textLength="39.30" lengthAdjust="spacingAndGlyphs" fill="#111" >RPMI-8226</text>
<text x="436.90" y="633.80" font-size="8.5" stroke="#111" stroke-width="0.15" text-anchor="middle" textLength="64.00" lengthAdjust="spacingAndGlyphs" fill="#111" >ES= -0.78; FDR= 0</text>
<rect x="0.5" y="0.5" width="519" height="650" fill="none" stroke="#111" stroke-width="1.2"/>
</g>
</svg>
</body></html>
